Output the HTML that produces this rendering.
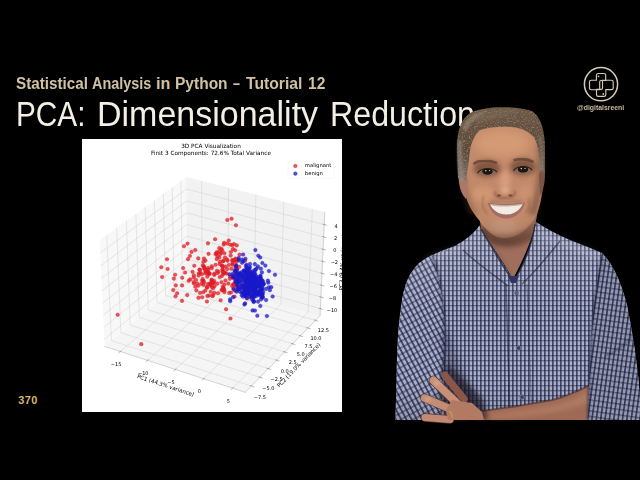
<!DOCTYPE html>
<html><head><meta charset="utf-8"><title>PCA: Dimensionality Reduction</title>
<style>
html,body{margin:0;padding:0;background:#000;}
body{width:640px;height:480px;position:relative;overflow:hidden;font-family:"Liberation Sans",Arial,sans-serif;}
.abs{position:absolute;}
#sub{left:0;top:0;width:640px;height:100px;font-size:16px;font-weight:bold;color:#d0c1a4;white-space:nowrap;}
.sw{position:absolute;top:75.2px;line-height:18px;transform-origin:0 0;}
#title{left:0;top:0;width:640px;height:140px;font-size:34px;color:#f4efe4;white-space:nowrap;}
.tw{position:absolute;top:93.4px;line-height:38px;transform-origin:0 0;}
#num{left:18.3px;top:393.8px;font-size:11px;font-weight:bold;color:#d6b66a;letter-spacing:0.35px;}
#chart{left:82px;top:139px;width:260px;height:273px;overflow:hidden;background:#fff;filter:blur(0.3px);}
#chart svg{display:block;}
#logo{left:581.3px;top:64.4px;}
#handle{left:577px;top:103px;font-size:8px;line-height:10px;font-weight:bold;color:#cbbb9c;white-space:nowrap;transform-origin:0 0;transform:scaleX(0.86);}
#person{left:0;top:0;}
</style></head><body>
<div class="abs" id="sub"><span class="sw" style="left:15.8px;transform:scaleX(0.952)">Statistical</span> <span class="sw" style="left:92.0px;transform:scaleX(0.9)">Analysis</span> <span class="sw" style="left:156.0px;transform:scaleX(1.0)">in</span> <span class="sw" style="left:175.0px;transform:scaleX(0.97)">Python</span> <span class="sw" style="left:233.0px;transform:scaleX(0.78)">–</span> <span class="sw" style="left:245.5px;transform:scaleX(0.98)">Tutorial</span> <span class="sw" style="left:307.6px;transform:scaleX(0.97)">12</span></div>
<div class="abs" id="title"><span class="tw" style="left:16.1px;transform:scale(0.876,1.05)">PCA:</span> <span class="tw" style="left:97.0px;transform:scale(1.0,1.05)">Dimensionality</span> <span class="tw" style="left:329.7px;transform:scale(0.947,1.05)">Reduction</span></div>
<div class="abs" id="num">370</div>
<div class="abs" id="chart"><svg width="260" height="273" viewBox="185.72 40.40 518.14 544.05"><g> <g> <path d="M 0 648 L 864 648 L 864 0 L 0 0 L 0 648 z " style="fill: none; opacity: 0"/> </g> <g> <path d="M 193.32 576.72 L 692.28 576.72 L 692.28 77.76 L 193.32 77.76 z " style="fill: #ffffff"/> </g> <g> <g> <path d="M 230.99 453.69 L 395.76 315.57 L 393.47 116.38 L 220.81 242.38 " style="fill: #f2f2f2; opacity: 0.5; stroke: #f2f2f2; stroke-linejoin: miter"/> </g> </g> <g> <g> <path d="M 395.76 315.57 L 660.16 392.42 L 669.60 186.37 L 393.47 116.38 " style="fill: #e6e6e6; opacity: 0.5; stroke: #e6e6e6; stroke-linejoin: miter"/> </g> </g> <g> <g> <path d="M 230.99 453.69 L 511.27 545.23 L 660.16 392.42 L 395.76 315.57 " style="fill: #ececec; opacity: 0.5; stroke: #ececec; stroke-linejoin: miter"/> </g> </g> <g> <g> <path d="M 262.08 463.84 L 425.21 324.13 L 424.17 124.16 " style="fill: none; stroke: #c8c8c8; stroke-width: 0.8"/> <path d="M 316.29 481.55 L 476.48 339.03 L 477.65 137.72 " style="fill: none; stroke: #c8c8c8; stroke-width: 0.8"/> <path d="M 371.65 499.63 L 528.74 354.22 L 532.20 151.55 " style="fill: none; stroke: #c8c8c8; stroke-width: 0.8"/> <path d="M 428.18 518.09 L 582.02 369.71 L 587.87 165.66 " style="fill: none; stroke: #c8c8c8; stroke-width: 0.8"/> <path d="M 485.92 536.95 L 636.35 385.50 L 644.68 180.06 " style="fill: none; stroke: #c8c8c8; stroke-width: 0.8"/> </g> </g> <g> <g> <path d="M 234.96 232.06 L 244.44 442.41 L 523.47 532.70 " style="fill: none; stroke: #c8c8c8; stroke-width: 0.8"/> <path d="M 254.72 217.64 L 263.25 426.65 L 540.52 515.21 " style="fill: none; stroke: #c8c8c8; stroke-width: 0.8"/> <path d="M 274.09 203.50 L 281.70 411.18 L 557.23 498.06 " style="fill: none; stroke: #c8c8c8; stroke-width: 0.8"/> <path d="M 293.09 189.64 L 299.82 396.00 L 573.62 481.24 " style="fill: none; stroke: #c8c8c8; stroke-width: 0.8"/> <path d="M 311.73 176.03 L 317.60 381.09 L 589.70 464.74 " style="fill: none; stroke: #c8c8c8; stroke-width: 0.8"/> <path d="M 330.02 162.69 L 335.06 366.45 L 605.47 448.56 " style="fill: none; stroke: #c8c8c8; stroke-width: 0.8"/> <path d="M 347.96 149.59 L 352.21 352.08 L 620.94 432.68 " style="fill: none; stroke: #c8c8c8; stroke-width: 0.8"/> <path d="M 365.58 136.74 L 369.06 337.96 L 636.12 417.10 " style="fill: none; stroke: #c8c8c8; stroke-width: 0.8"/> <path d="M 382.86 124.12 L 385.60 324.09 L 651.02 401.80 " style="fill: none; stroke: #c8c8c8; stroke-width: 0.8"/> </g> </g> <g> <g> <path d="M 660.80 378.54 L 395.61 302.12 L 230.31 439.47 " style="fill: none; stroke: #c8c8c8; stroke-width: 0.8"/> <path d="M 661.86 355.33 L 395.35 279.65 L 229.16 415.70 " style="fill: none; stroke: #c8c8c8; stroke-width: 0.8"/> <path d="M 662.94 331.88 L 395.09 256.95 L 228.00 391.67 " style="fill: none; stroke: #c8c8c8; stroke-width: 0.8"/> <path d="M 664.02 308.19 L 394.83 234.04 L 226.83 367.39 " style="fill: none; stroke: #c8c8c8; stroke-width: 0.8"/> <path d="M 665.12 284.26 L 394.56 210.90 L 225.65 342.85 " style="fill: none; stroke: #c8c8c8; stroke-width: 0.8"/> <path d="M 666.22 260.08 L 394.29 187.54 L 224.46 318.05 " style="fill: none; stroke: #c8c8c8; stroke-width: 0.8"/> <path d="M 667.34 235.66 L 394.02 163.95 L 223.25 292.99 " style="fill: none; stroke: #c8c8c8; stroke-width: 0.8"/> <path d="M 668.47 210.98 L 393.75 140.13 L 222.03 267.65 " style="fill: none; stroke: #c8c8c8; stroke-width: 0.8"/> </g> </g> <g> <g> <path d="M 230.99 453.69 L 511.27 545.23 " style="fill: none; stroke: #9a9a9a; stroke-width: 0.8; stroke-linecap: square"/> </g> <g> <g> <path d="M 263.50 462.63 L 259.24 466.28 " style="fill: none; stroke: #505050; stroke-width: 0.8; stroke-linecap: square"/> </g> <g transform="translate(-1.00 4.98)"> <text style="font-size: 10px; font-family: DejaVu Sans, sans-serif; text-anchor: middle" x="254.57" y="487.18" transform="rotate(-0 254.57 487.18)">−15</text> </g> </g> <g> <g> <path d="M 317.69 480.31 L 313.50 484.04 " style="fill: none; stroke: #505050; stroke-width: 0.8; stroke-linecap: square"/> </g> <g transform="translate(-1.00 4.98)"> <text style="font-size: 10px; font-family: DejaVu Sans, sans-serif; text-anchor: middle" x="308.82" y="505.08" transform="rotate(-0 308.82 505.08)">−10</text> </g> </g> <g> <g> <path d="M 373.02 498.36 L 368.90 502.17 " style="fill: none; stroke: #505050; stroke-width: 0.8; stroke-linecap: square"/> </g> <g transform="translate(-1.00 4.98)"> <text style="font-size: 10px; font-family: DejaVu Sans, sans-serif; text-anchor: middle" x="364.20" y="523.36" transform="rotate(-0 364.20 523.36)">−5</text> </g> </g> <g> <g> <path d="M 429.52 516.79 L 425.48 520.69 " style="fill: none; stroke: #505050; stroke-width: 0.8; stroke-linecap: square"/> </g> <g transform="translate(-1.00 4.98)"> <text style="font-size: 10px; font-family: DejaVu Sans, sans-serif; text-anchor: middle" x="420.77" y="542.04" transform="rotate(-0 420.77 542.04)">0</text> </g> </g> <g> <g> <path d="M 487.23 535.62 L 483.28 539.60 " style="fill: none; stroke: #505050; stroke-width: 0.8; stroke-linecap: square"/> </g> <g transform="translate(-1.00 4.98)"> <text style="font-size: 10px; font-family: DejaVu Sans, sans-serif; text-anchor: middle" x="478.55" y="561.11" transform="rotate(-0 478.55 561.11)">5</text> </g> </g> <g transform="translate(1.00 -1.20)"> <text style="font-size: 11px; font-family: DejaVu Sans, sans-serif; text-anchor: middle" x="350.26" y="536.27" transform="rotate(-341.91 350.26 536.27)">PC1 (44.3% variance)</text> </g> </g> <g> <g> <path d="M 660.16 392.42 L 511.27 545.23 " style="fill: none; stroke: #9a9a9a; stroke-width: 0.8; stroke-linecap: square"/> </g> <g> <g> <path d="M 521.12 531.94 L 528.18 534.23 " style="fill: none; stroke: #505050; stroke-width: 0.8; stroke-linecap: square"/> </g> <g transform="translate(3.79 4.18)"> <text style="font-size: 10px; font-family: DejaVu Sans, sans-serif; text-anchor: middle" x="536.34" y="553.70" transform="rotate(-0 536.34 553.70)">−7.5</text> </g> </g> <g> <g> <path d="M 538.18 514.46 L 545.20 516.70 " style="fill: none; stroke: #505050; stroke-width: 0.8; stroke-linecap: square"/> </g> <g transform="translate(3.79 4.18)"> <text style="font-size: 10px; font-family: DejaVu Sans, sans-serif; text-anchor: middle" x="553.26" y="536.07" transform="rotate(-0 553.26 536.07)">−5.0</text> </g> </g> <g> <g> <path d="M 554.91 497.32 L 561.88 499.52 " style="fill: none; stroke: #505050; stroke-width: 0.8; stroke-linecap: square"/> </g> <g transform="translate(3.79 4.18)"> <text style="font-size: 10px; font-family: DejaVu Sans, sans-serif; text-anchor: middle" x="569.86" y="518.78" transform="rotate(-0 569.86 518.78)">−2.5</text> </g> </g> <g> <g> <path d="M 571.32 480.52 L 578.24 482.67 " style="fill: none; stroke: #505050; stroke-width: 0.8; stroke-linecap: square"/> </g> <g transform="translate(3.79 4.18)"> <text style="font-size: 10px; font-family: DejaVu Sans, sans-serif; text-anchor: middle" x="586.13" y="501.83" transform="rotate(-0 586.13 501.83)">0.0</text> </g> </g> <g> <g> <path d="M 587.41 464.04 L 594.28 466.15 " style="fill: none; stroke: #505050; stroke-width: 0.8; stroke-linecap: square"/> </g> <g transform="translate(3.79 4.18)"> <text style="font-size: 10px; font-family: DejaVu Sans, sans-serif; text-anchor: middle" x="602.09" y="485.21" transform="rotate(-0 602.09 485.21)">2.5</text> </g> </g> <g> <g> <path d="M 603.19 447.87 L 610.02 449.94 " style="fill: none; stroke: #505050; stroke-width: 0.8; stroke-linecap: square"/> </g> <g transform="translate(3.79 4.18)"> <text style="font-size: 10px; font-family: DejaVu Sans, sans-serif; text-anchor: middle" x="617.74" y="468.90" transform="rotate(-0 617.74 468.90)">5.0</text> </g> </g> <g> <g> <path d="M 618.68 432.00 L 625.46 434.04 " style="fill: none; stroke: #505050; stroke-width: 0.8; stroke-linecap: square"/> </g> <g transform="translate(3.79 4.18)"> <text style="font-size: 10px; font-family: DejaVu Sans, sans-serif; text-anchor: middle" x="633.10" y="452.89" transform="rotate(-0 633.10 452.89)">7.5</text> </g> </g> <g> <g> <path d="M 633.88 416.43 L 640.61 418.43 " style="fill: none; stroke: #505050; stroke-width: 0.8; stroke-linecap: square"/> </g> <g transform="translate(3.79 4.18)"> <text style="font-size: 10px; font-family: DejaVu Sans, sans-serif; text-anchor: middle" x="648.18" y="437.19" transform="rotate(-0 648.18 437.19)">10.0</text> </g> </g> <g> <g> <path d="M 648.79 401.15 L 655.48 403.11 " style="fill: none; stroke: #505050; stroke-width: 0.8; stroke-linecap: square"/> </g> <g transform="translate(3.79 4.18)"> <text style="font-size: 10px; font-family: DejaVu Sans, sans-serif; text-anchor: middle" x="662.97" y="421.78" transform="rotate(-0 662.97 421.78)">12.5</text> </g> </g> <g transform="translate(1.91 -1.91)"> <text style="font-size: 11px; font-family: DejaVu Sans, sans-serif; text-anchor: middle" x="618.18" y="495.52" transform="rotate(-45.74 618.18 495.52)">PC2 (19.0% variance)</text> </g> </g> <g> <g> <path d="M 660.16 392.42 L 669.60 186.37 " style="fill: none; stroke: #9a9a9a; stroke-width: 0.8; stroke-linecap: square"/> </g> <g> <g> <path d="M 658.57 377.90 L 665.26 379.82 " style="fill: none; stroke: #505050; stroke-width: 0.8; stroke-linecap: square"/> </g> <g transform="translate(4.78 1.00)"> <text style="font-size: 10px; font-family: DejaVu Sans, sans-serif; text-anchor: middle" x="679.13" y="383.54" transform="rotate(-0 679.13 383.54)">−10</text> </g> </g> <g> <g> <path d="M 659.63 354.69 L 666.34 356.60 " style="fill: none; stroke: #505050; stroke-width: 0.8; stroke-linecap: square"/> </g> <g transform="translate(4.78 1.00)"> <text style="font-size: 10px; font-family: DejaVu Sans, sans-serif; text-anchor: middle" x="680.28" y="360.35" transform="rotate(-0 680.28 360.35)">−8</text> </g> </g> <g> <g> <path d="M 660.69 331.25 L 667.44 333.14 " style="fill: none; stroke: #505050; stroke-width: 0.8; stroke-linecap: square"/> </g> <g transform="translate(4.78 1.00)"> <text style="font-size: 10px; font-family: DejaVu Sans, sans-serif; text-anchor: middle" x="681.45" y="336.93" transform="rotate(-0 681.45 336.93)">−6</text> </g> </g> <g> <g> <path d="M 661.76 307.57 L 668.55 309.44 " style="fill: none; stroke: #505050; stroke-width: 0.8; stroke-linecap: square"/> </g> <g transform="translate(4.78 1.00)"> <text style="font-size: 10px; font-family: DejaVu Sans, sans-serif; text-anchor: middle" x="682.62" y="313.27" transform="rotate(-0 682.62 313.27)">−4</text> </g> </g> <g> <g> <path d="M 662.84 283.64 L 669.67 285.49 " style="fill: none; stroke: #505050; stroke-width: 0.8; stroke-linecap: square"/> </g> <g transform="translate(4.78 1.00)"> <text style="font-size: 10px; font-family: DejaVu Sans, sans-serif; text-anchor: middle" x="683.81" y="289.36" transform="rotate(-0 683.81 289.36)">−2</text> </g> </g> <g> <g> <path d="M 663.94 259.47 L 670.80 261.30 " style="fill: none; stroke: #505050; stroke-width: 0.8; stroke-linecap: square"/> </g> <g transform="translate(4.78 1.00)"> <text style="font-size: 10px; font-family: DejaVu Sans, sans-serif; text-anchor: middle" x="685.01" y="265.22" transform="rotate(-0 685.01 265.22)">0</text> </g> </g> <g> <g> <path d="M 665.05 235.06 L 671.94 236.86 " style="fill: none; stroke: #505050; stroke-width: 0.8; stroke-linecap: square"/> </g> <g transform="translate(4.78 1.00)"> <text style="font-size: 10px; font-family: DejaVu Sans, sans-serif; text-anchor: middle" x="686.23" y="240.82" transform="rotate(-0 686.23 240.82)">2</text> </g> </g> <g> <g> <path d="M 666.16 210.38 L 673.10 212.17 " style="fill: none; stroke: #505050; stroke-width: 0.8; stroke-linecap: square"/> </g> <g transform="translate(4.78 1.00)"> <text style="font-size: 10px; font-family: DejaVu Sans, sans-serif; text-anchor: middle" x="687.45" y="216.17" transform="rotate(-0 687.45 216.17)">4</text> </g> </g> <g transform="translate(0.00 0.00)"> <text style="font-size: 11px; font-family: DejaVu Sans, sans-serif; text-anchor: middle" x="708.31" y="286.37" transform="rotate(-87.37 708.31 286.37)">PC3 (9.4% variance)</text> </g> </g> <g> <g> <circle cx="367.6" cy="341.5" r="3.6" fill="#e01c24" fill-opacity="0.75" stroke="#e01c24" stroke-opacity="0.75"/> <circle cx="397.0" cy="279.8" r="3.6" fill="#e01c24" fill-opacity="0.75" stroke="#e01c24" stroke-opacity="0.75"/> <circle cx="483.8" cy="199.2" r="3.6" fill="#e01c24" fill-opacity="0.75" stroke="#e01c24" stroke-opacity="0.75"/> <circle cx="475.1" cy="248.8" r="3.6" fill="#e01c24" fill-opacity="0.75" stroke="#e01c24" stroke-opacity="0.75"/> <circle cx="420.9" cy="347.1" r="3.6" fill="#e01c24" fill-opacity="0.75" stroke="#e01c24" stroke-opacity="0.75"/> <circle cx="418.7" cy="308.1" r="3.6" fill="#e01c24" fill-opacity="0.75" stroke="#e01c24" stroke-opacity="0.75"/> <circle cx="472.9" cy="379.6" r="3.6" fill="#e01c24" fill-opacity="0.75" stroke="#e01c24" stroke-opacity="0.75"/> <circle cx="459.2" cy="276.6" r="3.6" fill="#e01c24" fill-opacity="0.75" stroke="#e01c24" stroke-opacity="0.75"/> <circle cx="355.1" cy="280.1" r="3.6" fill="#e01c24" fill-opacity="0.75" stroke="#e01c24" stroke-opacity="0.75"/> <circle cx="406.0" cy="305.2" r="3.6" fill="#e01c24" fill-opacity="0.75" stroke="#e01c24" stroke-opacity="0.75"/> <circle cx="475.3" cy="201.7" r="3.6" fill="#e01c24" fill-opacity="0.75" stroke="#e01c24" stroke-opacity="0.75"/> <circle cx="461.2" cy="269.9" r="3.6" fill="#e01c24" fill-opacity="0.75" stroke="#e01c24" stroke-opacity="0.75"/> <circle cx="404.0" cy="265.4" r="3.6" fill="#e01c24" fill-opacity="0.75" stroke="#e01c24" stroke-opacity="0.75"/> <circle cx="388.9" cy="254.0" r="3.6" fill="#e01c24" fill-opacity="0.75" stroke="#e01c24" stroke-opacity="0.75"/> <circle cx="303.8" cy="449.2" r="3.6" fill="#e01c24" fill-opacity="0.75" stroke="#e01c24" stroke-opacity="0.75"/> <circle cx="427.7" cy="285.0" r="3.6" fill="#e01c24" fill-opacity="0.75" stroke="#e01c24" stroke-opacity="0.75"/> <circle cx="435.3" cy="314.8" r="3.6" fill="#e01c24" fill-opacity="0.75" stroke="#e01c24" stroke-opacity="0.75"/> <circle cx="460.7" cy="284.8" r="3.6" fill="#e01c24" fill-opacity="0.75" stroke="#e01c24" stroke-opacity="0.75"/> <circle cx="499.7" cy="270.9" r="3.6" fill="#e01c24" fill-opacity="0.75" stroke="#e01c24" stroke-opacity="0.75"/> <circle cx="456.7" cy="347.8" r="3.6" fill="#e01c24" fill-opacity="0.75" stroke="#e01c24" stroke-opacity="0.75"/> <circle cx="442.1" cy="332.2" r="3.6" fill="#e01c24" fill-opacity="0.75" stroke="#e01c24" stroke-opacity="0.75"/> <circle cx="478.2" cy="242.7" r="3.6" fill="#e01c24" fill-opacity="0.75" stroke="#e01c24" stroke-opacity="0.75"/> <circle cx="413.1" cy="321.4" r="3.6" fill="#e01c24" fill-opacity="0.75" stroke="#e01c24" stroke-opacity="0.75"/> <circle cx="256.8" cy="390.6" r="3.6" fill="#e01c24" fill-opacity="0.75" stroke="#e01c24" stroke-opacity="0.75"/> <circle cx="439.1" cy="352.2" r="3.6" fill="#e01c24" fill-opacity="0.75" stroke="#e01c24" stroke-opacity="0.75"/> <circle cx="463.0" cy="267.1" r="3.6" fill="#e01c24" fill-opacity="0.75" stroke="#e01c24" stroke-opacity="0.75"/> <circle cx="391.2" cy="306.5" r="3.6" fill="#e01c24" fill-opacity="0.75" stroke="#e01c24" stroke-opacity="0.75"/> <circle cx="492.5" cy="212.3" r="3.6" fill="#e01c24" fill-opacity="0.75" stroke="#e01c24" stroke-opacity="0.75"/> <circle cx="466.7" cy="283.9" r="3.6" fill="#e01c24" fill-opacity="0.75" stroke="#e01c24" stroke-opacity="0.75"/> <circle cx="480.9" cy="314.6" r="3.6" fill="#e01c24" fill-opacity="0.75" stroke="#e01c24" stroke-opacity="0.75"/> <circle cx="458.5" cy="264.6" r="3.6" fill="#e01c24" fill-opacity="0.75" stroke="#e01c24" stroke-opacity="0.75"/> <circle cx="451.0" cy="240.1" r="3.6" fill="#e01c24" fill-opacity="0.75" stroke="#e01c24" stroke-opacity="0.75"/> <circle cx="466.3" cy="294.3" r="3.6" fill="#e01c24" fill-opacity="0.75" stroke="#e01c24" stroke-opacity="0.75"/> <circle cx="485.4" cy="281.6" r="3.6" fill="#e01c24" fill-opacity="0.75" stroke="#e01c24" stroke-opacity="0.75"/> <circle cx="387.3" cy="297.7" r="3.6" fill="#e01c24" fill-opacity="0.75" stroke="#e01c24" stroke-opacity="0.75"/> <circle cx="429.7" cy="295.7" r="3.6" fill="#e01c24" fill-opacity="0.75" stroke="#e01c24" stroke-opacity="0.75"/> <circle cx="425.2" cy="322.4" r="3.6" fill="#e01c24" fill-opacity="0.75" stroke="#e01c24" stroke-opacity="0.75"/> <circle cx="483.2" cy="298.9" r="3.6" fill="#e01c24" fill-opacity="0.75" stroke="#e01c24" stroke-opacity="0.75"/> <circle cx="463.6" cy="259.0" r="3.6" fill="#e01c24" fill-opacity="0.75" stroke="#e01c24" stroke-opacity="0.75"/> <circle cx="485.3" cy="252.1" r="3.6" fill="#e01c24" fill-opacity="0.75" stroke="#e01c24" stroke-opacity="0.75"/> <circle cx="413.6" cy="342.1" r="3.6" fill="#e01c24" fill-opacity="0.75" stroke="#e01c24" stroke-opacity="0.75"/> <circle cx="454.2" cy="266.0" r="3.6" fill="#e01c24" fill-opacity="0.75" stroke="#e01c24" stroke-opacity="0.75"/> <circle cx="356.4" cy="299.4" r="3.6" fill="#e01c24" fill-opacity="0.75" stroke="#e01c24" stroke-opacity="0.75"/> <circle cx="488.6" cy="249.7" r="3.6" fill="#e01c24" fill-opacity="0.75" stroke="#e01c24" stroke-opacity="0.75"/> <circle cx="417.3" cy="278.3" r="3.6" fill="#e01c24" fill-opacity="0.75" stroke="#e01c24" stroke-opacity="0.75"/> <circle cx="477.4" cy="328.5" r="3.6" fill="#e01c24" fill-opacity="0.75" stroke="#e01c24" stroke-opacity="0.75"/> <circle cx="396.0" cy="248.9" r="3.6" fill="#e01c24" fill-opacity="0.75" stroke="#e01c24" stroke-opacity="0.75"/> <circle cx="486.5" cy="259.9" r="3.6" fill="#e01c24" fill-opacity="0.75" stroke="#e01c24" stroke-opacity="0.75"/> <circle cx="436.7" cy="248.3" r="3.6" fill="#e01c24" fill-opacity="0.75" stroke="#e01c24" stroke-opacity="0.75"/> <circle cx="494.1" cy="252.5" r="3.6" fill="#e01c24" fill-opacity="0.75" stroke="#e01c24" stroke-opacity="0.75"/> <circle cx="492.7" cy="286.0" r="3.6" fill="#e01c24" fill-opacity="0.75" stroke="#e01c24" stroke-opacity="0.75"/> <circle cx="468.2" cy="250.4" r="3.6" fill="#e01c24" fill-opacity="0.75" stroke="#e01c24" stroke-opacity="0.75"/> <circle cx="481.3" cy="250.9" r="3.6" fill="#e01c24" fill-opacity="0.75" stroke="#e01c24" stroke-opacity="0.75"/> <circle cx="485.6" cy="288.3" r="3.6" fill="#e01c24" fill-opacity="0.75" stroke="#e01c24" stroke-opacity="0.75"/> <circle cx="474.9" cy="299.6" r="3.6" fill="#e01c24" fill-opacity="0.75" stroke="#e01c24" stroke-opacity="0.75"/> <circle cx="444.5" cy="327.1" r="3.6" fill="#e01c24" fill-opacity="0.75" stroke="#e01c24" stroke-opacity="0.75"/> <circle cx="449.4" cy="347.1" r="3.6" fill="#e01c24" fill-opacity="0.75" stroke="#e01c24" stroke-opacity="0.75"/> <circle cx="398.3" cy="323.0" r="3.6" fill="#e01c24" fill-opacity="0.75" stroke="#e01c24" stroke-opacity="0.75"/> <circle cx="437.9" cy="269.3" r="3.6" fill="#e01c24" fill-opacity="0.75" stroke="#e01c24" stroke-opacity="0.75"/> <circle cx="452.0" cy="291.1" r="3.6" fill="#e01c24" fill-opacity="0.75" stroke="#e01c24" stroke-opacity="0.75"/> <circle cx="436.3" cy="329.6" r="3.6" fill="#e01c24" fill-opacity="0.75" stroke="#e01c24" stroke-opacity="0.75"/> <circle cx="454.2" cy="279.7" r="3.6" fill="#e01c24" fill-opacity="0.75" stroke="#e01c24" stroke-opacity="0.75"/> <circle cx="408.6" cy="312.2" r="3.6" fill="#e01c24" fill-opacity="0.75" stroke="#e01c24" stroke-opacity="0.75"/> <circle cx="444.4" cy="294.0" r="3.6" fill="#e01c24" fill-opacity="0.75" stroke="#e01c24" stroke-opacity="0.75"/> <circle cx="419.7" cy="300.8" r="3.6" fill="#e01c24" fill-opacity="0.75" stroke="#e01c24" stroke-opacity="0.75"/> <circle cx="453.5" cy="269.1" r="3.6" fill="#e01c24" fill-opacity="0.75" stroke="#e01c24" stroke-opacity="0.75"/> <circle cx="385.1" cy="332.2" r="3.6" fill="#e01c24" fill-opacity="0.75" stroke="#e01c24" stroke-opacity="0.75"/> <circle cx="471.6" cy="322.3" r="3.6" fill="#e01c24" fill-opacity="0.75" stroke="#e01c24" stroke-opacity="0.75"/> <circle cx="408.4" cy="316.4" r="3.6" fill="#e01c24" fill-opacity="0.75" stroke="#e01c24" stroke-opacity="0.75"/> <circle cx="427.9" cy="322.9" r="3.6" fill="#e01c24" fill-opacity="0.75" stroke="#e01c24" stroke-opacity="0.75"/> <circle cx="411.4" cy="261.7" r="3.6" fill="#e01c24" fill-opacity="0.75" stroke="#e01c24" stroke-opacity="0.75"/> <circle cx="400.7" cy="273.7" r="3.6" fill="#e01c24" fill-opacity="0.75" stroke="#e01c24" stroke-opacity="0.75"/> <circle cx="423.6" cy="329.1" r="3.6" fill="#e01c24" fill-opacity="0.75" stroke="#e01c24" stroke-opacity="0.75"/> <circle cx="493.8" cy="280.7" r="3.6" fill="#e01c24" fill-opacity="0.75" stroke="#e01c24" stroke-opacity="0.75"/> <circle cx="466.1" cy="300.3" r="3.6" fill="#e01c24" fill-opacity="0.75" stroke="#e01c24" stroke-opacity="0.75"/> <circle cx="421.1" cy="301.2" r="3.6" fill="#e01c24" fill-opacity="0.75" stroke="#e01c24" stroke-opacity="0.75"/> <circle cx="443.4" cy="325.2" r="3.6" fill="#e01c24" fill-opacity="0.75" stroke="#e01c24" stroke-opacity="0.75"/> <circle cx="431.7" cy="282.7" r="3.6" fill="#e01c24" fill-opacity="0.75" stroke="#e01c24" stroke-opacity="0.75"/> <circle cx="487.8" cy="337.6" r="3.6" fill="#e01c24" fill-opacity="0.75" stroke="#e01c24" stroke-opacity="0.75"/> <circle cx="465.1" cy="293.4" r="3.6" fill="#e01c24" fill-opacity="0.75" stroke="#e01c24" stroke-opacity="0.75"/> <circle cx="482.0" cy="272.8" r="3.6" fill="#e01c24" fill-opacity="0.75" stroke="#e01c24" stroke-opacity="0.75"/> <circle cx="343.7" cy="296.0" r="3.6" fill="#e01c24" fill-opacity="0.75" stroke="#e01c24" stroke-opacity="0.75"/> <circle cx="395.5" cy="351.5" r="3.6" fill="#e01c24" fill-opacity="0.75" stroke="#e01c24" stroke-opacity="0.75"/> <circle cx="445.7" cy="353.7" r="3.6" fill="#e01c24" fill-opacity="0.75" stroke="#e01c24" stroke-opacity="0.75"/> <circle cx="469.4" cy="268.1" r="3.6" fill="#e01c24" fill-opacity="0.75" stroke="#e01c24" stroke-opacity="0.75"/> <circle cx="417.8" cy="357.0" r="3.6" fill="#e01c24" fill-opacity="0.75" stroke="#e01c24" stroke-opacity="0.75"/> <circle cx="469.1" cy="247.2" r="3.6" fill="#e01c24" fill-opacity="0.75" stroke="#e01c24" stroke-opacity="0.75"/> <circle cx="433.7" cy="307.2" r="3.6" fill="#e01c24" fill-opacity="0.75" stroke="#e01c24" stroke-opacity="0.75"/> <circle cx="470.6" cy="276.6" r="3.6" fill="#e01c24" fill-opacity="0.75" stroke="#e01c24" stroke-opacity="0.75"/> <circle cx="449.7" cy="333.6" r="3.6" fill="#e01c24" fill-opacity="0.75" stroke="#e01c24" stroke-opacity="0.75"/> <circle cx="444.0" cy="321.0" r="3.6" fill="#e01c24" fill-opacity="0.75" stroke="#e01c24" stroke-opacity="0.75"/> <circle cx="436.3" cy="303.9" r="3.6" fill="#e01c24" fill-opacity="0.75" stroke="#e01c24" stroke-opacity="0.75"/> <circle cx="485.3" cy="283.0" r="3.6" fill="#e01c24" fill-opacity="0.75" stroke="#e01c24" stroke-opacity="0.75"/> <circle cx="448.2" cy="326.6" r="3.6" fill="#e01c24" fill-opacity="0.75" stroke="#e01c24" stroke-opacity="0.75"/> <circle cx="490.9" cy="262.1" r="3.6" fill="#e01c24" fill-opacity="0.75" stroke="#e01c24" stroke-opacity="0.75"/> <circle cx="444.9" cy="335.9" r="3.6" fill="#e01c24" fill-opacity="0.75" stroke="#e01c24" stroke-opacity="0.75"/> <circle cx="435.3" cy="336.5" r="3.6" fill="#e01c24" fill-opacity="0.75" stroke="#e01c24" stroke-opacity="0.75"/> <circle cx="371.3" cy="310.9" r="3.6" fill="#e01c24" fill-opacity="0.75" stroke="#e01c24" stroke-opacity="0.75"/> <circle cx="446.5" cy="326.5" r="3.6" fill="#e01c24" fill-opacity="0.75" stroke="#e01c24" stroke-opacity="0.75"/> <circle cx="434.7" cy="364.3" r="3.6" fill="#e01c24" fill-opacity="0.75" stroke="#e01c24" stroke-opacity="0.75"/> <circle cx="510.7" cy="283.1" r="3.6" fill="#e01c24" fill-opacity="0.75" stroke="#e01c24" stroke-opacity="0.75"/> <circle cx="491.2" cy="311.8" r="3.6" fill="#e01c24" fill-opacity="0.75" stroke="#e01c24" stroke-opacity="0.75"/> <circle cx="475.8" cy="283.0" r="3.6" fill="#e01c24" fill-opacity="0.75" stroke="#e01c24" stroke-opacity="0.75"/> <circle cx="452.0" cy="269.5" r="3.6" fill="#e01c24" fill-opacity="0.75" stroke="#e01c24" stroke-opacity="0.75"/> <circle cx="442.4" cy="329.7" r="3.6" fill="#e01c24" fill-opacity="0.75" stroke="#e01c24" stroke-opacity="0.75"/> <circle cx="478.2" cy="291.6" r="3.6" fill="#e01c24" fill-opacity="0.75" stroke="#e01c24" stroke-opacity="0.75"/> <circle cx="459.3" cy="257.9" r="3.6" fill="#e01c24" fill-opacity="0.75" stroke="#e01c24" stroke-opacity="0.75"/> <circle cx="467.8" cy="283.2" r="3.6" fill="#e01c24" fill-opacity="0.75" stroke="#e01c24" stroke-opacity="0.75"/> <circle cx="428.8" cy="326.0" r="3.6" fill="#e01c24" fill-opacity="0.75" stroke="#e01c24" stroke-opacity="0.75"/> <circle cx="485.5" cy="290.8" r="3.6" fill="#e01c24" fill-opacity="0.75" stroke="#e01c24" stroke-opacity="0.75"/> <circle cx="464.1" cy="292.1" r="3.6" fill="#e01c24" fill-opacity="0.75" stroke="#e01c24" stroke-opacity="0.75"/> <circle cx="417.4" cy="332.8" r="3.6" fill="#e01c24" fill-opacity="0.75" stroke="#e01c24" stroke-opacity="0.75"/> <circle cx="368.8" cy="318.6" r="3.6" fill="#e01c24" fill-opacity="0.75" stroke="#e01c24" stroke-opacity="0.75"/> <circle cx="483.0" cy="346.4" r="3.6" fill="#e01c24" fill-opacity="0.75" stroke="#e01c24" stroke-opacity="0.75"/> <circle cx="490.4" cy="310.6" r="3.6" fill="#e01c24" fill-opacity="0.75" stroke="#e01c24" stroke-opacity="0.75"/> <circle cx="427.2" cy="345.7" r="3.6" fill="#e01c24" fill-opacity="0.75" stroke="#e01c24" stroke-opacity="0.75"/> <circle cx="427.9" cy="294.0" r="3.6" fill="#e01c24" fill-opacity="0.75" stroke="#e01c24" stroke-opacity="0.75"/> <circle cx="421.5" cy="307.0" r="3.6" fill="#e01c24" fill-opacity="0.75" stroke="#e01c24" stroke-opacity="0.75"/> <circle cx="455.1" cy="328.7" r="3.6" fill="#e01c24" fill-opacity="0.75" stroke="#e01c24" stroke-opacity="0.75"/> <circle cx="409.5" cy="292.9" r="3.6" fill="#e01c24" fill-opacity="0.75" stroke="#e01c24" stroke-opacity="0.75"/> <circle cx="430.5" cy="299.5" r="3.6" fill="#e01c24" fill-opacity="0.75" stroke="#e01c24" stroke-opacity="0.75"/> <circle cx="429.1" cy="298.1" r="3.6" fill="#e01c24" fill-opacity="0.75" stroke="#e01c24" stroke-opacity="0.75"/> <circle cx="444.6" cy="321.5" r="3.6" fill="#e01c24" fill-opacity="0.75" stroke="#e01c24" stroke-opacity="0.75"/> <circle cx="465.7" cy="301.7" r="3.6" fill="#e01c24" fill-opacity="0.75" stroke="#e01c24" stroke-opacity="0.75"/> <circle cx="385.4" cy="316.9" r="3.6" fill="#e01c24" fill-opacity="0.75" stroke="#e01c24" stroke-opacity="0.75"/> <circle cx="418.1" cy="312.6" r="3.6" fill="#e01c24" fill-opacity="0.75" stroke="#e01c24" stroke-opacity="0.75"/> <circle cx="487.2" cy="330.0" r="3.6" fill="#e01c24" fill-opacity="0.75" stroke="#e01c24" stroke-opacity="0.75"/> <circle cx="465.2" cy="262.2" r="3.6" fill="#e01c24" fill-opacity="0.75" stroke="#e01c24" stroke-opacity="0.75"/> <circle cx="491.4" cy="303.8" r="3.6" fill="#e01c24" fill-opacity="0.75" stroke="#e01c24" stroke-opacity="0.75"/> <circle cx="426.5" cy="292.0" r="3.6" fill="#e01c24" fill-opacity="0.75" stroke="#e01c24" stroke-opacity="0.75"/> <circle cx="489.5" cy="282.1" r="3.6" fill="#e01c24" fill-opacity="0.75" stroke="#e01c24" stroke-opacity="0.75"/> <circle cx="462.0" cy="361.8" r="3.6" fill="#e01c24" fill-opacity="0.75" stroke="#e01c24" stroke-opacity="0.75"/> <circle cx="425.2" cy="355.8" r="3.6" fill="#e01c24" fill-opacity="0.75" stroke="#e01c24" stroke-opacity="0.75"/> <circle cx="459.8" cy="289.6" r="3.6" fill="#e01c24" fill-opacity="0.75" stroke="#e01c24" stroke-opacity="0.75"/> <circle cx="469.5" cy="330.6" r="3.6" fill="#e01c24" fill-opacity="0.75" stroke="#e01c24" stroke-opacity="0.75"/> <circle cx="428.9" cy="278.6" r="3.6" fill="#e01c24" fill-opacity="0.75" stroke="#e01c24" stroke-opacity="0.75"/> <circle cx="372.1" cy="353.9" r="3.6" fill="#e01c24" fill-opacity="0.75" stroke="#e01c24" stroke-opacity="0.75"/> <circle cx="424.5" cy="310.0" r="3.6" fill="#e01c24" fill-opacity="0.75" stroke="#e01c24" stroke-opacity="0.75"/> <circle cx="455.8" cy="274.1" r="3.6" fill="#e01c24" fill-opacity="0.75" stroke="#e01c24" stroke-opacity="0.75"/> <circle cx="454.7" cy="303.0" r="3.6" fill="#e01c24" fill-opacity="0.75" stroke="#e01c24" stroke-opacity="0.75"/> <circle cx="463.7" cy="341.5" r="3.6" fill="#e01c24" fill-opacity="0.75" stroke="#e01c24" stroke-opacity="0.75"/> <circle cx="471.6" cy="294.5" r="3.6" fill="#e01c24" fill-opacity="0.75" stroke="#e01c24" stroke-opacity="0.75"/> <circle cx="463.5" cy="325.8" r="3.6" fill="#e01c24" fill-opacity="0.75" stroke="#e01c24" stroke-opacity="0.75"/> <circle cx="491.5" cy="278.5" r="3.6" fill="#e01c24" fill-opacity="0.75" stroke="#e01c24" stroke-opacity="0.75"/> <circle cx="438.5" cy="309.9" r="3.6" fill="#e01c24" fill-opacity="0.75" stroke="#e01c24" stroke-opacity="0.75"/> <circle cx="447.3" cy="337.5" r="3.6" fill="#e01c24" fill-opacity="0.75" stroke="#e01c24" stroke-opacity="0.75"/> <circle cx="474.5" cy="280.4" r="3.6" fill="#e01c24" fill-opacity="0.75" stroke="#e01c24" stroke-opacity="0.75"/> <circle cx="465.6" cy="341.0" r="3.6" fill="#e01c24" fill-opacity="0.75" stroke="#e01c24" stroke-opacity="0.75"/> <circle cx="515.4" cy="358.0" r="3.6" fill="#e01c24" fill-opacity="0.75" stroke="#e01c24" stroke-opacity="0.75"/> <circle cx="466.1" cy="334.8" r="3.6" fill="#e01c24" fill-opacity="0.75" stroke="#e01c24" stroke-opacity="0.75"/> <circle cx="345.4" cy="315.3" r="3.6" fill="#e01c24" fill-opacity="0.75" stroke="#e01c24" stroke-opacity="0.75"/> <circle cx="490.9" cy="342.6" r="3.6" fill="#e01c24" fill-opacity="0.75" stroke="#e01c24" stroke-opacity="0.75"/> <circle cx="481.6" cy="398.1" r="3.6" fill="#e01c24" fill-opacity="0.75" stroke="#e01c24" stroke-opacity="0.75"/> <circle cx="489.5" cy="281.8" r="3.6" fill="#e01c24" fill-opacity="0.75" stroke="#e01c24" stroke-opacity="0.75"/> <circle cx="437.2" cy="297.6" r="3.6" fill="#e01c24" fill-opacity="0.75" stroke="#e01c24" stroke-opacity="0.75"/> <circle cx="372.6" cy="332.2" r="3.6" fill="#e01c24" fill-opacity="0.75" stroke="#e01c24" stroke-opacity="0.75"/> <circle cx="440.4" cy="308.5" r="3.6" fill="#e01c24" fill-opacity="0.75" stroke="#e01c24" stroke-opacity="0.75"/> <circle cx="470.2" cy="306.2" r="3.6" fill="#e01c24" fill-opacity="0.75" stroke="#e01c24" stroke-opacity="0.75"/> <circle cx="449.4" cy="311.3" r="3.6" fill="#e01c24" fill-opacity="0.75" stroke="#e01c24" stroke-opacity="0.75"/> <circle cx="470.4" cy="307.7" r="3.6" fill="#e01c24" fill-opacity="0.75" stroke="#e01c24" stroke-opacity="0.75"/> <circle cx="444.2" cy="298.0" r="3.6" fill="#e01c24" fill-opacity="0.75" stroke="#e01c24" stroke-opacity="0.75"/> <circle cx="438.1" cy="307.3" r="3.6" fill="#e01c24" fill-opacity="0.75" stroke="#e01c24" stroke-opacity="0.75"/> <circle cx="438.8" cy="308.4" r="3.6" fill="#e01c24" fill-opacity="0.75" stroke="#e01c24" stroke-opacity="0.75"/> <circle cx="437.3" cy="300.6" r="3.6" fill="#e01c24" fill-opacity="0.75" stroke="#e01c24" stroke-opacity="0.75"/> <circle cx="499.1" cy="295.1" r="3.6" fill="#e01c24" fill-opacity="0.75" stroke="#e01c24" stroke-opacity="0.75"/> <circle cx="467.9" cy="338.8" r="3.6" fill="#e01c24" fill-opacity="0.75" stroke="#e01c24" stroke-opacity="0.75"/> <circle cx="482.4" cy="265.5" r="3.6" fill="#e01c24" fill-opacity="0.75" stroke="#e01c24" stroke-opacity="0.75"/> <circle cx="435.6" cy="353.1" r="3.6" fill="#e01c24" fill-opacity="0.75" stroke="#e01c24" stroke-opacity="0.75"/> <circle cx="401.4" cy="320.2" r="3.6" fill="#e01c24" fill-opacity="0.75" stroke="#e01c24" stroke-opacity="0.75"/> <circle cx="489.8" cy="354.3" r="3.6" fill="#e01c24" fill-opacity="0.75" stroke="#e01c24" stroke-opacity="0.75"/> <circle cx="446.9" cy="351.5" r="3.6" fill="#e01c24" fill-opacity="0.75" stroke="#e01c24" stroke-opacity="0.75"/> <circle cx="408.1" cy="325.3" r="3.6" fill="#e01c24" fill-opacity="0.75" stroke="#e01c24" stroke-opacity="0.75"/> <circle cx="489.2" cy="329.2" r="3.6" fill="#e01c24" fill-opacity="0.75" stroke="#e01c24" stroke-opacity="0.75"/> <circle cx="513.8" cy="324.6" r="3.6" fill="#e01c24" fill-opacity="0.75" stroke="#e01c24" stroke-opacity="0.75"/> <circle cx="375.4" cy="347.8" r="3.6" fill="#e01c24" fill-opacity="0.75" stroke="#e01c24" stroke-opacity="0.75"/> <circle cx="415.6" cy="328.5" r="3.6" fill="#e01c24" fill-opacity="0.75" stroke="#e01c24" stroke-opacity="0.75"/> <circle cx="460.2" cy="315.5" r="3.6" fill="#e01c24" fill-opacity="0.75" stroke="#e01c24" stroke-opacity="0.75"/> <circle cx="480.4" cy="319.1" r="3.6" fill="#e01c24" fill-opacity="0.75" stroke="#e01c24" stroke-opacity="0.75"/> <circle cx="431.5" cy="303.2" r="3.6" fill="#e01c24" fill-opacity="0.75" stroke="#e01c24" stroke-opacity="0.75"/> <circle cx="449.1" cy="323.4" r="3.6" fill="#e01c24" fill-opacity="0.75" stroke="#e01c24" stroke-opacity="0.75"/> <circle cx="466.5" cy="305.8" r="3.6" fill="#e01c24" fill-opacity="0.75" stroke="#e01c24" stroke-opacity="0.75"/> <circle cx="474.0" cy="308.6" r="3.6" fill="#e01c24" fill-opacity="0.75" stroke="#e01c24" stroke-opacity="0.75"/> <circle cx="469.2" cy="341.6" r="3.6" fill="#e01c24" fill-opacity="0.75" stroke="#e01c24" stroke-opacity="0.75"/> <circle cx="428.0" cy="331.0" r="3.6" fill="#e01c24" fill-opacity="0.75" stroke="#e01c24" stroke-opacity="0.75"/> <circle cx="491.8" cy="296.7" r="3.6" fill="#e01c24" fill-opacity="0.75" stroke="#e01c24" stroke-opacity="0.75"/> <circle cx="411.5" cy="334.8" r="3.6" fill="#e01c24" fill-opacity="0.75" stroke="#e01c24" stroke-opacity="0.75"/> <circle cx="493.1" cy="329.4" r="3.6" fill="#e01c24" fill-opacity="0.75" stroke="#e01c24" stroke-opacity="0.75"/> <circle cx="434.6" cy="335.4" r="3.6" fill="#e01c24" fill-opacity="0.75" stroke="#e01c24" stroke-opacity="0.75"/> <circle cx="455.4" cy="307.6" r="3.6" fill="#e01c24" fill-opacity="0.75" stroke="#e01c24" stroke-opacity="0.75"/> <circle cx="488.8" cy="331.2" r="3.6" fill="#e01c24" fill-opacity="0.75" stroke="#e01c24" stroke-opacity="0.75"/> <circle cx="496.7" cy="280.5" r="3.6" fill="#e01c24" fill-opacity="0.75" stroke="#e01c24" stroke-opacity="0.75"/> <circle cx="449.3" cy="308.8" r="3.6" fill="#e01c24" fill-opacity="0.75" stroke="#e01c24" stroke-opacity="0.75"/> <circle cx="426.2" cy="319.5" r="3.6" fill="#e01c24" fill-opacity="0.75" stroke="#e01c24" stroke-opacity="0.75"/> <circle cx="495.2" cy="301.0" r="3.6" fill="#e01c24" fill-opacity="0.75" stroke="#e01c24" stroke-opacity="0.75"/> <circle cx="431.3" cy="307.6" r="3.6" fill="#e01c24" fill-opacity="0.75" stroke="#e01c24" stroke-opacity="0.75"/> <circle cx="431.4" cy="342.6" r="3.6" fill="#e01c24" fill-opacity="0.75" stroke="#e01c24" stroke-opacity="0.75"/> <circle cx="467.2" cy="309.2" r="3.6" fill="#e01c24" fill-opacity="0.75" stroke="#e01c24" stroke-opacity="0.75"/> <circle cx="439.9" cy="329.0" r="3.6" fill="#e01c24" fill-opacity="0.75" stroke="#e01c24" stroke-opacity="0.75"/> <circle cx="385.1" cy="363.0" r="3.6" fill="#e01c24" fill-opacity="0.75" stroke="#e01c24" stroke-opacity="0.75"/> <circle cx="491.8" cy="295.0" r="3.6" fill="#e01c24" fill-opacity="0.75" stroke="#e01c24" stroke-opacity="0.75"/> <circle cx="458.0" cy="305.1" r="3.6" fill="#e01c24" fill-opacity="0.75" stroke="#e01c24" stroke-opacity="0.75"/> <circle cx="468.0" cy="337.2" r="3.6" fill="#e01c24" fill-opacity="0.75" stroke="#e01c24" stroke-opacity="0.75"/> <circle cx="442.3" cy="344.9" r="3.6" fill="#e01c24" fill-opacity="0.75" stroke="#e01c24" stroke-opacity="0.75"/> <circle cx="469.4" cy="345.5" r="3.6" fill="#e01c24" fill-opacity="0.75" stroke="#e01c24" stroke-opacity="0.75"/> <circle cx="409.1" cy="328.5" r="3.6" fill="#e01c24" fill-opacity="0.75" stroke="#e01c24" stroke-opacity="0.75"/> <circle cx="484.7" cy="333.3" r="3.6" fill="#e01c24" fill-opacity="0.75" stroke="#e01c24" stroke-opacity="0.75"/> <circle cx="487.1" cy="318.0" r="3.6" fill="#e01c24" fill-opacity="0.75" stroke="#e01c24" stroke-opacity="0.75"/> <circle cx="479.1" cy="347.1" r="3.6" fill="#e01c24" fill-opacity="0.75" stroke="#e01c24" stroke-opacity="0.75"/> <circle cx="505.6" cy="324.4" r="3.6" fill="#e01c24" fill-opacity="0.75" stroke="#e01c24" stroke-opacity="0.75"/> <circle cx="485.5" cy="312.7" r="3.6" fill="#e01c24" fill-opacity="0.75" stroke="#e01c24" stroke-opacity="0.75"/> <circle cx="494.4" cy="332.6" r="3.6" fill="#e01c24" fill-opacity="0.75" stroke="#e01c24" stroke-opacity="0.75"/> <circle cx="464.7" cy="313.1" r="3.6" fill="#e01c24" fill-opacity="0.75" stroke="#e01c24" stroke-opacity="0.75"/> </g> <g> <text style="font-size: 11.5px; font-family: DejaVu Sans, sans-serif" transform="translate(383.32 58.88)">3D PCA Visualization</text> <text style="font-size: 11.5px; font-family: DejaVu Sans, sans-serif" transform="translate(323.05 71.76)">First 3 Components: 72.6% Total Variance</text> </g> <g> <circle cx="497.9" cy="312.4" r="3.6" fill="#1a1ac8" fill-opacity="0.75" stroke="#1a1ac8" stroke-opacity="0.75"/> <circle cx="506.8" cy="270.7" r="3.6" fill="#1a1ac8" fill-opacity="0.75" stroke="#1a1ac8" stroke-opacity="0.75"/> <circle cx="526.9" cy="326.5" r="3.6" fill="#1a1ac8" fill-opacity="0.75" stroke="#1a1ac8" stroke-opacity="0.75"/> <circle cx="486.9" cy="355.6" r="3.6" fill="#1a1ac8" fill-opacity="0.75" stroke="#1a1ac8" stroke-opacity="0.75"/> <circle cx="545.9" cy="323.5" r="3.6" fill="#1a1ac8" fill-opacity="0.75" stroke="#1a1ac8" stroke-opacity="0.75"/> <circle cx="537.1" cy="273.0" r="3.6" fill="#1a1ac8" fill-opacity="0.75" stroke="#1a1ac8" stroke-opacity="0.75"/> <circle cx="519.6" cy="302.8" r="3.6" fill="#1a1ac8" fill-opacity="0.75" stroke="#1a1ac8" stroke-opacity="0.75"/> <circle cx="513.9" cy="291.0" r="3.6" fill="#1a1ac8" fill-opacity="0.75" stroke="#1a1ac8" stroke-opacity="0.75"/> <circle cx="531.2" cy="261.8" r="3.6" fill="#1a1ac8" fill-opacity="0.75" stroke="#1a1ac8" stroke-opacity="0.75"/> <circle cx="479.8" cy="310.2" r="3.6" fill="#1a1ac8" fill-opacity="0.75" stroke="#1a1ac8" stroke-opacity="0.75"/> <circle cx="540.9" cy="276.6" r="3.6" fill="#1a1ac8" fill-opacity="0.75" stroke="#1a1ac8" stroke-opacity="0.75"/> <circle cx="513.8" cy="352.4" r="3.6" fill="#1a1ac8" fill-opacity="0.75" stroke="#1a1ac8" stroke-opacity="0.75"/> <circle cx="497.2" cy="308.2" r="3.6" fill="#1a1ac8" fill-opacity="0.75" stroke="#1a1ac8" stroke-opacity="0.75"/> <circle cx="544.3" cy="306.3" r="3.6" fill="#1a1ac8" fill-opacity="0.75" stroke="#1a1ac8" stroke-opacity="0.75"/> <circle cx="565.6" cy="354.3" r="3.6" fill="#1a1ac8" fill-opacity="0.75" stroke="#1a1ac8" stroke-opacity="0.75"/> <circle cx="511.4" cy="279.1" r="3.6" fill="#1a1ac8" fill-opacity="0.75" stroke="#1a1ac8" stroke-opacity="0.75"/> <circle cx="541.9" cy="349.4" r="3.6" fill="#1a1ac8" fill-opacity="0.75" stroke="#1a1ac8" stroke-opacity="0.75"/> <circle cx="524.0" cy="323.4" r="3.6" fill="#1a1ac8" fill-opacity="0.75" stroke="#1a1ac8" stroke-opacity="0.75"/> <circle cx="542.1" cy="298.8" r="3.6" fill="#1a1ac8" fill-opacity="0.75" stroke="#1a1ac8" stroke-opacity="0.75"/> <circle cx="544.3" cy="349.7" r="3.6" fill="#1a1ac8" fill-opacity="0.75" stroke="#1a1ac8" stroke-opacity="0.75"/> <circle cx="487.0" cy="315.0" r="3.6" fill="#1a1ac8" fill-opacity="0.75" stroke="#1a1ac8" stroke-opacity="0.75"/> <circle cx="509.7" cy="305.0" r="3.6" fill="#1a1ac8" fill-opacity="0.75" stroke="#1a1ac8" stroke-opacity="0.75"/> <circle cx="533.1" cy="324.4" r="3.6" fill="#1a1ac8" fill-opacity="0.75" stroke="#1a1ac8" stroke-opacity="0.75"/> <circle cx="541.9" cy="342.4" r="3.6" fill="#1a1ac8" fill-opacity="0.75" stroke="#1a1ac8" stroke-opacity="0.75"/> <circle cx="514.0" cy="298.7" r="3.6" fill="#1a1ac8" fill-opacity="0.75" stroke="#1a1ac8" stroke-opacity="0.75"/> <circle cx="527.2" cy="308.4" r="3.6" fill="#1a1ac8" fill-opacity="0.75" stroke="#1a1ac8" stroke-opacity="0.75"/> <circle cx="523.5" cy="321.7" r="3.6" fill="#1a1ac8" fill-opacity="0.75" stroke="#1a1ac8" stroke-opacity="0.75"/> <circle cx="500.1" cy="344.8" r="3.6" fill="#1a1ac8" fill-opacity="0.75" stroke="#1a1ac8" stroke-opacity="0.75"/> <circle cx="510.3" cy="332.8" r="3.6" fill="#1a1ac8" fill-opacity="0.75" stroke="#1a1ac8" stroke-opacity="0.75"/> <circle cx="532.0" cy="317.1" r="3.6" fill="#1a1ac8" fill-opacity="0.75" stroke="#1a1ac8" stroke-opacity="0.75"/> <circle cx="536.2" cy="294.3" r="3.6" fill="#1a1ac8" fill-opacity="0.75" stroke="#1a1ac8" stroke-opacity="0.75"/> <circle cx="532.0" cy="335.6" r="3.6" fill="#1a1ac8" fill-opacity="0.75" stroke="#1a1ac8" stroke-opacity="0.75"/> <circle cx="496.5" cy="340.1" r="3.6" fill="#1a1ac8" fill-opacity="0.75" stroke="#1a1ac8" stroke-opacity="0.75"/> <circle cx="504.2" cy="314.9" r="3.6" fill="#1a1ac8" fill-opacity="0.75" stroke="#1a1ac8" stroke-opacity="0.75"/> <circle cx="540.5" cy="343.7" r="3.6" fill="#1a1ac8" fill-opacity="0.75" stroke="#1a1ac8" stroke-opacity="0.75"/> <circle cx="544.4" cy="326.9" r="3.6" fill="#1a1ac8" fill-opacity="0.75" stroke="#1a1ac8" stroke-opacity="0.75"/> <circle cx="529.0" cy="329.7" r="3.6" fill="#1a1ac8" fill-opacity="0.75" stroke="#1a1ac8" stroke-opacity="0.75"/> <circle cx="533.7" cy="345.1" r="3.6" fill="#1a1ac8" fill-opacity="0.75" stroke="#1a1ac8" stroke-opacity="0.75"/> <circle cx="486.7" cy="315.7" r="3.6" fill="#1a1ac8" fill-opacity="0.75" stroke="#1a1ac8" stroke-opacity="0.75"/> <circle cx="513.8" cy="315.4" r="3.6" fill="#1a1ac8" fill-opacity="0.75" stroke="#1a1ac8" stroke-opacity="0.75"/> <circle cx="512.7" cy="329.7" r="3.6" fill="#1a1ac8" fill-opacity="0.75" stroke="#1a1ac8" stroke-opacity="0.75"/> <circle cx="518.2" cy="334.8" r="3.6" fill="#1a1ac8" fill-opacity="0.75" stroke="#1a1ac8" stroke-opacity="0.75"/> <circle cx="539.8" cy="333.2" r="3.6" fill="#1a1ac8" fill-opacity="0.75" stroke="#1a1ac8" stroke-opacity="0.75"/> <circle cx="539.7" cy="326.3" r="3.6" fill="#1a1ac8" fill-opacity="0.75" stroke="#1a1ac8" stroke-opacity="0.75"/> <circle cx="492.8" cy="292.4" r="3.6" fill="#1a1ac8" fill-opacity="0.75" stroke="#1a1ac8" stroke-opacity="0.75"/> <circle cx="513.8" cy="357.2" r="3.6" fill="#1a1ac8" fill-opacity="0.75" stroke="#1a1ac8" stroke-opacity="0.75"/> <circle cx="521.2" cy="312.7" r="3.6" fill="#1a1ac8" fill-opacity="0.75" stroke="#1a1ac8" stroke-opacity="0.75"/> <circle cx="516.7" cy="320.8" r="3.6" fill="#1a1ac8" fill-opacity="0.75" stroke="#1a1ac8" stroke-opacity="0.75"/> <circle cx="512.3" cy="308.5" r="3.6" fill="#1a1ac8" fill-opacity="0.75" stroke="#1a1ac8" stroke-opacity="0.75"/> <circle cx="513.2" cy="324.9" r="3.6" fill="#1a1ac8" fill-opacity="0.75" stroke="#1a1ac8" stroke-opacity="0.75"/> <circle cx="552.5" cy="339.1" r="3.6" fill="#1a1ac8" fill-opacity="0.75" stroke="#1a1ac8" stroke-opacity="0.75"/> <circle cx="510.2" cy="348.0" r="3.6" fill="#1a1ac8" fill-opacity="0.75" stroke="#1a1ac8" stroke-opacity="0.75"/> <circle cx="498.0" cy="277.5" r="3.6" fill="#1a1ac8" fill-opacity="0.75" stroke="#1a1ac8" stroke-opacity="0.75"/> <circle cx="498.5" cy="282.5" r="3.6" fill="#1a1ac8" fill-opacity="0.75" stroke="#1a1ac8" stroke-opacity="0.75"/> <circle cx="526.0" cy="307.9" r="3.6" fill="#1a1ac8" fill-opacity="0.75" stroke="#1a1ac8" stroke-opacity="0.75"/> <circle cx="545.8" cy="355.0" r="3.6" fill="#1a1ac8" fill-opacity="0.75" stroke="#1a1ac8" stroke-opacity="0.75"/> <circle cx="528.2" cy="339.9" r="3.6" fill="#1a1ac8" fill-opacity="0.75" stroke="#1a1ac8" stroke-opacity="0.75"/> <circle cx="538.9" cy="351.8" r="3.6" fill="#1a1ac8" fill-opacity="0.75" stroke="#1a1ac8" stroke-opacity="0.75"/> <circle cx="522.0" cy="329.3" r="3.6" fill="#1a1ac8" fill-opacity="0.75" stroke="#1a1ac8" stroke-opacity="0.75"/> <circle cx="515.0" cy="333.7" r="3.6" fill="#1a1ac8" fill-opacity="0.75" stroke="#1a1ac8" stroke-opacity="0.75"/> <circle cx="486.4" cy="308.9" r="3.6" fill="#1a1ac8" fill-opacity="0.75" stroke="#1a1ac8" stroke-opacity="0.75"/> <circle cx="544.4" cy="355.0" r="3.6" fill="#1a1ac8" fill-opacity="0.75" stroke="#1a1ac8" stroke-opacity="0.75"/> <circle cx="519.0" cy="326.2" r="3.6" fill="#1a1ac8" fill-opacity="0.75" stroke="#1a1ac8" stroke-opacity="0.75"/> <circle cx="511.5" cy="353.3" r="3.6" fill="#1a1ac8" fill-opacity="0.75" stroke="#1a1ac8" stroke-opacity="0.75"/> <circle cx="513.4" cy="296.6" r="3.6" fill="#1a1ac8" fill-opacity="0.75" stroke="#1a1ac8" stroke-opacity="0.75"/> <circle cx="489.9" cy="302.4" r="3.6" fill="#1a1ac8" fill-opacity="0.75" stroke="#1a1ac8" stroke-opacity="0.75"/> <circle cx="541.5" cy="321.1" r="3.6" fill="#1a1ac8" fill-opacity="0.75" stroke="#1a1ac8" stroke-opacity="0.75"/> <circle cx="524.3" cy="320.5" r="3.6" fill="#1a1ac8" fill-opacity="0.75" stroke="#1a1ac8" stroke-opacity="0.75"/> <circle cx="525.6" cy="332.8" r="3.6" fill="#1a1ac8" fill-opacity="0.75" stroke="#1a1ac8" stroke-opacity="0.75"/> <circle cx="558.0" cy="336.0" r="3.6" fill="#1a1ac8" fill-opacity="0.75" stroke="#1a1ac8" stroke-opacity="0.75"/> <circle cx="514.8" cy="304.7" r="3.6" fill="#1a1ac8" fill-opacity="0.75" stroke="#1a1ac8" stroke-opacity="0.75"/> <circle cx="518.2" cy="334.2" r="3.6" fill="#1a1ac8" fill-opacity="0.75" stroke="#1a1ac8" stroke-opacity="0.75"/> <circle cx="570.3" cy="311.0" r="3.6" fill="#1a1ac8" fill-opacity="0.75" stroke="#1a1ac8" stroke-opacity="0.75"/> <circle cx="514.3" cy="335.5" r="3.6" fill="#1a1ac8" fill-opacity="0.75" stroke="#1a1ac8" stroke-opacity="0.75"/> <circle cx="540.5" cy="314.2" r="3.6" fill="#1a1ac8" fill-opacity="0.75" stroke="#1a1ac8" stroke-opacity="0.75"/> <circle cx="504.8" cy="280.6" r="3.6" fill="#1a1ac8" fill-opacity="0.75" stroke="#1a1ac8" stroke-opacity="0.75"/> <circle cx="533.7" cy="298.6" r="3.6" fill="#1a1ac8" fill-opacity="0.75" stroke="#1a1ac8" stroke-opacity="0.75"/> <circle cx="509.4" cy="370.2" r="3.6" fill="#1a1ac8" fill-opacity="0.75" stroke="#1a1ac8" stroke-opacity="0.75"/> <circle cx="532.7" cy="343.9" r="3.6" fill="#1a1ac8" fill-opacity="0.75" stroke="#1a1ac8" stroke-opacity="0.75"/> <circle cx="545.2" cy="287.6" r="3.6" fill="#1a1ac8" fill-opacity="0.75" stroke="#1a1ac8" stroke-opacity="0.75"/> <circle cx="527.0" cy="317.7" r="3.6" fill="#1a1ac8" fill-opacity="0.75" stroke="#1a1ac8" stroke-opacity="0.75"/> <circle cx="520.5" cy="289.4" r="3.6" fill="#1a1ac8" fill-opacity="0.75" stroke="#1a1ac8" stroke-opacity="0.75"/> <circle cx="534.4" cy="332.5" r="3.6" fill="#1a1ac8" fill-opacity="0.75" stroke="#1a1ac8" stroke-opacity="0.75"/> <circle cx="514.5" cy="335.7" r="3.6" fill="#1a1ac8" fill-opacity="0.75" stroke="#1a1ac8" stroke-opacity="0.75"/> <circle cx="515.6" cy="321.1" r="3.6" fill="#1a1ac8" fill-opacity="0.75" stroke="#1a1ac8" stroke-opacity="0.75"/> <circle cx="525.7" cy="325.5" r="3.6" fill="#1a1ac8" fill-opacity="0.75" stroke="#1a1ac8" stroke-opacity="0.75"/> <circle cx="503.6" cy="305.9" r="3.6" fill="#1a1ac8" fill-opacity="0.75" stroke="#1a1ac8" stroke-opacity="0.75"/> <circle cx="520.4" cy="311.3" r="3.6" fill="#1a1ac8" fill-opacity="0.75" stroke="#1a1ac8" stroke-opacity="0.75"/> <circle cx="528.8" cy="320.2" r="3.6" fill="#1a1ac8" fill-opacity="0.75" stroke="#1a1ac8" stroke-opacity="0.75"/> <circle cx="538.1" cy="344.1" r="3.6" fill="#1a1ac8" fill-opacity="0.75" stroke="#1a1ac8" stroke-opacity="0.75"/> <circle cx="511.0" cy="317.1" r="3.6" fill="#1a1ac8" fill-opacity="0.75" stroke="#1a1ac8" stroke-opacity="0.75"/> <circle cx="508.7" cy="302.8" r="3.6" fill="#1a1ac8" fill-opacity="0.75" stroke="#1a1ac8" stroke-opacity="0.75"/> <circle cx="526.1" cy="316.4" r="3.6" fill="#1a1ac8" fill-opacity="0.75" stroke="#1a1ac8" stroke-opacity="0.75"/> <circle cx="530.9" cy="308.9" r="3.6" fill="#1a1ac8" fill-opacity="0.75" stroke="#1a1ac8" stroke-opacity="0.75"/> <circle cx="509.5" cy="344.0" r="3.6" fill="#1a1ac8" fill-opacity="0.75" stroke="#1a1ac8" stroke-opacity="0.75"/> <circle cx="527.9" cy="347.0" r="3.6" fill="#1a1ac8" fill-opacity="0.75" stroke="#1a1ac8" stroke-opacity="0.75"/> <circle cx="545.6" cy="349.5" r="3.6" fill="#1a1ac8" fill-opacity="0.75" stroke="#1a1ac8" stroke-opacity="0.75"/> <circle cx="498.0" cy="335.8" r="3.6" fill="#1a1ac8" fill-opacity="0.75" stroke="#1a1ac8" stroke-opacity="0.75"/> <circle cx="534.6" cy="324.5" r="3.6" fill="#1a1ac8" fill-opacity="0.75" stroke="#1a1ac8" stroke-opacity="0.75"/> <circle cx="525.4" cy="337.9" r="3.6" fill="#1a1ac8" fill-opacity="0.75" stroke="#1a1ac8" stroke-opacity="0.75"/> <circle cx="546.7" cy="345.1" r="3.6" fill="#1a1ac8" fill-opacity="0.75" stroke="#1a1ac8" stroke-opacity="0.75"/> <circle cx="541.0" cy="373.2" r="3.6" fill="#1a1ac8" fill-opacity="0.75" stroke="#1a1ac8" stroke-opacity="0.75"/> <circle cx="537.8" cy="348.9" r="3.6" fill="#1a1ac8" fill-opacity="0.75" stroke="#1a1ac8" stroke-opacity="0.75"/> <circle cx="546.5" cy="331.4" r="3.6" fill="#1a1ac8" fill-opacity="0.75" stroke="#1a1ac8" stroke-opacity="0.75"/> <circle cx="543.4" cy="355.2" r="3.6" fill="#1a1ac8" fill-opacity="0.75" stroke="#1a1ac8" stroke-opacity="0.75"/> <circle cx="519.9" cy="305.9" r="3.6" fill="#1a1ac8" fill-opacity="0.75" stroke="#1a1ac8" stroke-opacity="0.75"/> <circle cx="540.6" cy="316.2" r="3.6" fill="#1a1ac8" fill-opacity="0.75" stroke="#1a1ac8" stroke-opacity="0.75"/> <circle cx="546.1" cy="327.4" r="3.6" fill="#1a1ac8" fill-opacity="0.75" stroke="#1a1ac8" stroke-opacity="0.75"/> <circle cx="520.6" cy="318.8" r="3.6" fill="#1a1ac8" fill-opacity="0.75" stroke="#1a1ac8" stroke-opacity="0.75"/> <circle cx="519.4" cy="297.7" r="3.6" fill="#1a1ac8" fill-opacity="0.75" stroke="#1a1ac8" stroke-opacity="0.75"/> <circle cx="493.5" cy="326.7" r="3.6" fill="#1a1ac8" fill-opacity="0.75" stroke="#1a1ac8" stroke-opacity="0.75"/> <circle cx="514.2" cy="330.3" r="3.6" fill="#1a1ac8" fill-opacity="0.75" stroke="#1a1ac8" stroke-opacity="0.75"/> <circle cx="529.9" cy="353.4" r="3.6" fill="#1a1ac8" fill-opacity="0.75" stroke="#1a1ac8" stroke-opacity="0.75"/> <circle cx="505.4" cy="312.3" r="3.6" fill="#1a1ac8" fill-opacity="0.75" stroke="#1a1ac8" stroke-opacity="0.75"/> <circle cx="510.7" cy="368.0" r="3.6" fill="#1a1ac8" fill-opacity="0.75" stroke="#1a1ac8" stroke-opacity="0.75"/> <circle cx="512.5" cy="330.0" r="3.6" fill="#1a1ac8" fill-opacity="0.75" stroke="#1a1ac8" stroke-opacity="0.75"/> <circle cx="530.3" cy="301.4" r="3.6" fill="#1a1ac8" fill-opacity="0.75" stroke="#1a1ac8" stroke-opacity="0.75"/> <circle cx="514.4" cy="309.0" r="3.6" fill="#1a1ac8" fill-opacity="0.75" stroke="#1a1ac8" stroke-opacity="0.75"/> <circle cx="507.2" cy="284.0" r="3.6" fill="#1a1ac8" fill-opacity="0.75" stroke="#1a1ac8" stroke-opacity="0.75"/> <circle cx="522.2" cy="321.7" r="3.6" fill="#1a1ac8" fill-opacity="0.75" stroke="#1a1ac8" stroke-opacity="0.75"/> <circle cx="511.6" cy="306.5" r="3.6" fill="#1a1ac8" fill-opacity="0.75" stroke="#1a1ac8" stroke-opacity="0.75"/> <circle cx="528.2" cy="327.2" r="3.6" fill="#1a1ac8" fill-opacity="0.75" stroke="#1a1ac8" stroke-opacity="0.75"/> <circle cx="524.6" cy="344.9" r="3.6" fill="#1a1ac8" fill-opacity="0.75" stroke="#1a1ac8" stroke-opacity="0.75"/> <circle cx="507.4" cy="310.8" r="3.6" fill="#1a1ac8" fill-opacity="0.75" stroke="#1a1ac8" stroke-opacity="0.75"/> <circle cx="522.4" cy="323.7" r="3.6" fill="#1a1ac8" fill-opacity="0.75" stroke="#1a1ac8" stroke-opacity="0.75"/> <circle cx="521.1" cy="351.6" r="3.6" fill="#1a1ac8" fill-opacity="0.75" stroke="#1a1ac8" stroke-opacity="0.75"/> <circle cx="536.9" cy="328.1" r="3.6" fill="#1a1ac8" fill-opacity="0.75" stroke="#1a1ac8" stroke-opacity="0.75"/> <circle cx="525.4" cy="304.3" r="3.6" fill="#1a1ac8" fill-opacity="0.75" stroke="#1a1ac8" stroke-opacity="0.75"/> <circle cx="551.1" cy="292.7" r="3.6" fill="#1a1ac8" fill-opacity="0.75" stroke="#1a1ac8" stroke-opacity="0.75"/> <circle cx="492.1" cy="304.3" r="3.6" fill="#1a1ac8" fill-opacity="0.75" stroke="#1a1ac8" stroke-opacity="0.75"/> <circle cx="525.6" cy="318.6" r="3.6" fill="#1a1ac8" fill-opacity="0.75" stroke="#1a1ac8" stroke-opacity="0.75"/> <circle cx="530.7" cy="343.4" r="3.6" fill="#1a1ac8" fill-opacity="0.75" stroke="#1a1ac8" stroke-opacity="0.75"/> <circle cx="499.5" cy="314.2" r="3.6" fill="#1a1ac8" fill-opacity="0.75" stroke="#1a1ac8" stroke-opacity="0.75"/> <circle cx="525.0" cy="340.4" r="3.6" fill="#1a1ac8" fill-opacity="0.75" stroke="#1a1ac8" stroke-opacity="0.75"/> <circle cx="528.2" cy="308.5" r="3.6" fill="#1a1ac8" fill-opacity="0.75" stroke="#1a1ac8" stroke-opacity="0.75"/> <circle cx="530.1" cy="289.7" r="3.6" fill="#1a1ac8" fill-opacity="0.75" stroke="#1a1ac8" stroke-opacity="0.75"/> <circle cx="542.7" cy="323.2" r="3.6" fill="#1a1ac8" fill-opacity="0.75" stroke="#1a1ac8" stroke-opacity="0.75"/> <circle cx="544.2" cy="340.8" r="3.6" fill="#1a1ac8" fill-opacity="0.75" stroke="#1a1ac8" stroke-opacity="0.75"/> <circle cx="520.2" cy="355.2" r="3.6" fill="#1a1ac8" fill-opacity="0.75" stroke="#1a1ac8" stroke-opacity="0.75"/> <circle cx="540.2" cy="320.3" r="3.6" fill="#1a1ac8" fill-opacity="0.75" stroke="#1a1ac8" stroke-opacity="0.75"/> <circle cx="523.3" cy="328.8" r="3.6" fill="#1a1ac8" fill-opacity="0.75" stroke="#1a1ac8" stroke-opacity="0.75"/> <circle cx="558.3" cy="303.6" r="3.6" fill="#1a1ac8" fill-opacity="0.75" stroke="#1a1ac8" stroke-opacity="0.75"/> <circle cx="554.2" cy="393.2" r="3.6" fill="#1a1ac8" fill-opacity="0.75" stroke="#1a1ac8" stroke-opacity="0.75"/> <circle cx="493.7" cy="344.9" r="3.6" fill="#1a1ac8" fill-opacity="0.75" stroke="#1a1ac8" stroke-opacity="0.75"/> <circle cx="489.1" cy="316.7" r="3.6" fill="#1a1ac8" fill-opacity="0.75" stroke="#1a1ac8" stroke-opacity="0.75"/> <circle cx="544.2" cy="336.1" r="3.6" fill="#1a1ac8" fill-opacity="0.75" stroke="#1a1ac8" stroke-opacity="0.75"/> <circle cx="511.2" cy="348.7" r="3.6" fill="#1a1ac8" fill-opacity="0.75" stroke="#1a1ac8" stroke-opacity="0.75"/> <circle cx="526.2" cy="318.7" r="3.6" fill="#1a1ac8" fill-opacity="0.75" stroke="#1a1ac8" stroke-opacity="0.75"/> <circle cx="519.2" cy="307.8" r="3.6" fill="#1a1ac8" fill-opacity="0.75" stroke="#1a1ac8" stroke-opacity="0.75"/> <circle cx="520.0" cy="322.9" r="3.6" fill="#1a1ac8" fill-opacity="0.75" stroke="#1a1ac8" stroke-opacity="0.75"/> <circle cx="519.5" cy="335.3" r="3.6" fill="#1a1ac8" fill-opacity="0.75" stroke="#1a1ac8" stroke-opacity="0.75"/> <circle cx="499.0" cy="308.3" r="3.6" fill="#1a1ac8" fill-opacity="0.75" stroke="#1a1ac8" stroke-opacity="0.75"/> <circle cx="534.6" cy="333.4" r="3.6" fill="#1a1ac8" fill-opacity="0.75" stroke="#1a1ac8" stroke-opacity="0.75"/> <circle cx="528.4" cy="312.6" r="3.6" fill="#1a1ac8" fill-opacity="0.75" stroke="#1a1ac8" stroke-opacity="0.75"/> <circle cx="511.7" cy="321.7" r="3.6" fill="#1a1ac8" fill-opacity="0.75" stroke="#1a1ac8" stroke-opacity="0.75"/> <circle cx="525.6" cy="382.0" r="3.6" fill="#1a1ac8" fill-opacity="0.75" stroke="#1a1ac8" stroke-opacity="0.75"/> <circle cx="541.2" cy="329.9" r="3.6" fill="#1a1ac8" fill-opacity="0.75" stroke="#1a1ac8" stroke-opacity="0.75"/> <circle cx="500.5" cy="308.4" r="3.6" fill="#1a1ac8" fill-opacity="0.75" stroke="#1a1ac8" stroke-opacity="0.75"/> <circle cx="519.8" cy="323.5" r="3.6" fill="#1a1ac8" fill-opacity="0.75" stroke="#1a1ac8" stroke-opacity="0.75"/> <circle cx="548.4" cy="328.8" r="3.6" fill="#1a1ac8" fill-opacity="0.75" stroke="#1a1ac8" stroke-opacity="0.75"/> <circle cx="541.4" cy="341.4" r="3.6" fill="#1a1ac8" fill-opacity="0.75" stroke="#1a1ac8" stroke-opacity="0.75"/> <circle cx="557.0" cy="326.8" r="3.6" fill="#1a1ac8" fill-opacity="0.75" stroke="#1a1ac8" stroke-opacity="0.75"/> <circle cx="515.3" cy="333.1" r="3.6" fill="#1a1ac8" fill-opacity="0.75" stroke="#1a1ac8" stroke-opacity="0.75"/> <circle cx="514.8" cy="336.4" r="3.6" fill="#1a1ac8" fill-opacity="0.75" stroke="#1a1ac8" stroke-opacity="0.75"/> <circle cx="528.8" cy="317.4" r="3.6" fill="#1a1ac8" fill-opacity="0.75" stroke="#1a1ac8" stroke-opacity="0.75"/> <circle cx="546.6" cy="330.1" r="3.6" fill="#1a1ac8" fill-opacity="0.75" stroke="#1a1ac8" stroke-opacity="0.75"/> <circle cx="508.2" cy="302.6" r="3.6" fill="#1a1ac8" fill-opacity="0.75" stroke="#1a1ac8" stroke-opacity="0.75"/> <circle cx="527.8" cy="334.1" r="3.6" fill="#1a1ac8" fill-opacity="0.75" stroke="#1a1ac8" stroke-opacity="0.75"/> <circle cx="527.1" cy="348.1" r="3.6" fill="#1a1ac8" fill-opacity="0.75" stroke="#1a1ac8" stroke-opacity="0.75"/> <circle cx="519.6" cy="318.4" r="3.6" fill="#1a1ac8" fill-opacity="0.75" stroke="#1a1ac8" stroke-opacity="0.75"/> <circle cx="518.5" cy="326.6" r="3.6" fill="#1a1ac8" fill-opacity="0.75" stroke="#1a1ac8" stroke-opacity="0.75"/> <circle cx="511.6" cy="325.2" r="3.6" fill="#1a1ac8" fill-opacity="0.75" stroke="#1a1ac8" stroke-opacity="0.75"/> <circle cx="502.4" cy="309.0" r="3.6" fill="#1a1ac8" fill-opacity="0.75" stroke="#1a1ac8" stroke-opacity="0.75"/> <circle cx="533.1" cy="337.0" r="3.6" fill="#1a1ac8" fill-opacity="0.75" stroke="#1a1ac8" stroke-opacity="0.75"/> <circle cx="506.9" cy="318.1" r="3.6" fill="#1a1ac8" fill-opacity="0.75" stroke="#1a1ac8" stroke-opacity="0.75"/> <circle cx="536.6" cy="364.4" r="3.6" fill="#1a1ac8" fill-opacity="0.75" stroke="#1a1ac8" stroke-opacity="0.75"/> <circle cx="524.3" cy="309.8" r="3.6" fill="#1a1ac8" fill-opacity="0.75" stroke="#1a1ac8" stroke-opacity="0.75"/> <circle cx="509.3" cy="350.5" r="3.6" fill="#1a1ac8" fill-opacity="0.75" stroke="#1a1ac8" stroke-opacity="0.75"/> <circle cx="525.8" cy="318.1" r="3.6" fill="#1a1ac8" fill-opacity="0.75" stroke="#1a1ac8" stroke-opacity="0.75"/> <circle cx="522.5" cy="312.5" r="3.6" fill="#1a1ac8" fill-opacity="0.75" stroke="#1a1ac8" stroke-opacity="0.75"/> <circle cx="494.3" cy="300.4" r="3.6" fill="#1a1ac8" fill-opacity="0.75" stroke="#1a1ac8" stroke-opacity="0.75"/> <circle cx="496.0" cy="310.9" r="3.6" fill="#1a1ac8" fill-opacity="0.75" stroke="#1a1ac8" stroke-opacity="0.75"/> <circle cx="527.8" cy="339.3" r="3.6" fill="#1a1ac8" fill-opacity="0.75" stroke="#1a1ac8" stroke-opacity="0.75"/> <circle cx="530.3" cy="382.2" r="3.6" fill="#1a1ac8" fill-opacity="0.75" stroke="#1a1ac8" stroke-opacity="0.75"/> <circle cx="517.7" cy="308.4" r="3.6" fill="#1a1ac8" fill-opacity="0.75" stroke="#1a1ac8" stroke-opacity="0.75"/> <circle cx="504.2" cy="321.0" r="3.6" fill="#1a1ac8" fill-opacity="0.75" stroke="#1a1ac8" stroke-opacity="0.75"/> <circle cx="493.1" cy="323.9" r="3.6" fill="#1a1ac8" fill-opacity="0.75" stroke="#1a1ac8" stroke-opacity="0.75"/> <circle cx="532.3" cy="337.8" r="3.6" fill="#1a1ac8" fill-opacity="0.75" stroke="#1a1ac8" stroke-opacity="0.75"/> <circle cx="516.3" cy="299.3" r="3.6" fill="#1a1ac8" fill-opacity="0.75" stroke="#1a1ac8" stroke-opacity="0.75"/> <circle cx="494.7" cy="334.1" r="3.6" fill="#1a1ac8" fill-opacity="0.75" stroke="#1a1ac8" stroke-opacity="0.75"/> <circle cx="526.6" cy="310.0" r="3.6" fill="#1a1ac8" fill-opacity="0.75" stroke="#1a1ac8" stroke-opacity="0.75"/> <circle cx="520.4" cy="322.1" r="3.6" fill="#1a1ac8" fill-opacity="0.75" stroke="#1a1ac8" stroke-opacity="0.75"/> <circle cx="520.2" cy="295.7" r="3.6" fill="#1a1ac8" fill-opacity="0.75" stroke="#1a1ac8" stroke-opacity="0.75"/> <circle cx="523.8" cy="321.6" r="3.6" fill="#1a1ac8" fill-opacity="0.75" stroke="#1a1ac8" stroke-opacity="0.75"/> <circle cx="512.9" cy="339.6" r="3.6" fill="#1a1ac8" fill-opacity="0.75" stroke="#1a1ac8" stroke-opacity="0.75"/> <circle cx="562.8" cy="335.7" r="3.6" fill="#1a1ac8" fill-opacity="0.75" stroke="#1a1ac8" stroke-opacity="0.75"/> <circle cx="495.0" cy="318.8" r="3.6" fill="#1a1ac8" fill-opacity="0.75" stroke="#1a1ac8" stroke-opacity="0.75"/> <circle cx="514.6" cy="303.8" r="3.6" fill="#1a1ac8" fill-opacity="0.75" stroke="#1a1ac8" stroke-opacity="0.75"/> <circle cx="546.0" cy="356.6" r="3.6" fill="#1a1ac8" fill-opacity="0.75" stroke="#1a1ac8" stroke-opacity="0.75"/> <circle cx="512.4" cy="293.2" r="3.6" fill="#1a1ac8" fill-opacity="0.75" stroke="#1a1ac8" stroke-opacity="0.75"/> <circle cx="504.1" cy="352.0" r="3.6" fill="#1a1ac8" fill-opacity="0.75" stroke="#1a1ac8" stroke-opacity="0.75"/> <circle cx="509.4" cy="312.5" r="3.6" fill="#1a1ac8" fill-opacity="0.75" stroke="#1a1ac8" stroke-opacity="0.75"/> <circle cx="514.2" cy="335.4" r="3.6" fill="#1a1ac8" fill-opacity="0.75" stroke="#1a1ac8" stroke-opacity="0.75"/> <circle cx="494.2" cy="308.3" r="3.6" fill="#1a1ac8" fill-opacity="0.75" stroke="#1a1ac8" stroke-opacity="0.75"/> <circle cx="519.9" cy="325.6" r="3.6" fill="#1a1ac8" fill-opacity="0.75" stroke="#1a1ac8" stroke-opacity="0.75"/> <circle cx="493.2" cy="312.9" r="3.6" fill="#1a1ac8" fill-opacity="0.75" stroke="#1a1ac8" stroke-opacity="0.75"/> <circle cx="515.5" cy="320.4" r="3.6" fill="#1a1ac8" fill-opacity="0.75" stroke="#1a1ac8" stroke-opacity="0.75"/> <circle cx="493.2" cy="293.5" r="3.6" fill="#1a1ac8" fill-opacity="0.75" stroke="#1a1ac8" stroke-opacity="0.75"/> <circle cx="530.4" cy="316.5" r="3.6" fill="#1a1ac8" fill-opacity="0.75" stroke="#1a1ac8" stroke-opacity="0.75"/> <circle cx="538.9" cy="329.9" r="3.6" fill="#1a1ac8" fill-opacity="0.75" stroke="#1a1ac8" stroke-opacity="0.75"/> <circle cx="522.0" cy="318.2" r="3.6" fill="#1a1ac8" fill-opacity="0.75" stroke="#1a1ac8" stroke-opacity="0.75"/> <circle cx="508.2" cy="339.7" r="3.6" fill="#1a1ac8" fill-opacity="0.75" stroke="#1a1ac8" stroke-opacity="0.75"/> <circle cx="523.7" cy="326.6" r="3.6" fill="#1a1ac8" fill-opacity="0.75" stroke="#1a1ac8" stroke-opacity="0.75"/> <circle cx="535.8" cy="317.0" r="3.6" fill="#1a1ac8" fill-opacity="0.75" stroke="#1a1ac8" stroke-opacity="0.75"/> <circle cx="560.1" cy="341.7" r="3.6" fill="#1a1ac8" fill-opacity="0.75" stroke="#1a1ac8" stroke-opacity="0.75"/> <circle cx="541.6" cy="312.9" r="3.6" fill="#1a1ac8" fill-opacity="0.75" stroke="#1a1ac8" stroke-opacity="0.75"/> <circle cx="516.7" cy="324.6" r="3.6" fill="#1a1ac8" fill-opacity="0.75" stroke="#1a1ac8" stroke-opacity="0.75"/> <circle cx="533.4" cy="322.0" r="3.6" fill="#1a1ac8" fill-opacity="0.75" stroke="#1a1ac8" stroke-opacity="0.75"/> <circle cx="510.1" cy="340.8" r="3.6" fill="#1a1ac8" fill-opacity="0.75" stroke="#1a1ac8" stroke-opacity="0.75"/> <circle cx="518.6" cy="346.8" r="3.6" fill="#1a1ac8" fill-opacity="0.75" stroke="#1a1ac8" stroke-opacity="0.75"/> <circle cx="504.3" cy="346.5" r="3.6" fill="#1a1ac8" fill-opacity="0.75" stroke="#1a1ac8" stroke-opacity="0.75"/> <circle cx="533.4" cy="314.2" r="3.6" fill="#1a1ac8" fill-opacity="0.75" stroke="#1a1ac8" stroke-opacity="0.75"/> <circle cx="532.2" cy="328.4" r="3.6" fill="#1a1ac8" fill-opacity="0.75" stroke="#1a1ac8" stroke-opacity="0.75"/> <circle cx="514.7" cy="308.7" r="3.6" fill="#1a1ac8" fill-opacity="0.75" stroke="#1a1ac8" stroke-opacity="0.75"/> <circle cx="529.2" cy="310.3" r="3.6" fill="#1a1ac8" fill-opacity="0.75" stroke="#1a1ac8" stroke-opacity="0.75"/> <circle cx="519.4" cy="308.0" r="3.6" fill="#1a1ac8" fill-opacity="0.75" stroke="#1a1ac8" stroke-opacity="0.75"/> <circle cx="524.4" cy="338.2" r="3.6" fill="#1a1ac8" fill-opacity="0.75" stroke="#1a1ac8" stroke-opacity="0.75"/> <circle cx="509.9" cy="331.7" r="3.6" fill="#1a1ac8" fill-opacity="0.75" stroke="#1a1ac8" stroke-opacity="0.75"/> <circle cx="525.3" cy="325.5" r="3.6" fill="#1a1ac8" fill-opacity="0.75" stroke="#1a1ac8" stroke-opacity="0.75"/> <circle cx="530.0" cy="343.4" r="3.6" fill="#1a1ac8" fill-opacity="0.75" stroke="#1a1ac8" stroke-opacity="0.75"/> <circle cx="542.8" cy="318.7" r="3.6" fill="#1a1ac8" fill-opacity="0.75" stroke="#1a1ac8" stroke-opacity="0.75"/> <circle cx="524.0" cy="327.7" r="3.6" fill="#1a1ac8" fill-opacity="0.75" stroke="#1a1ac8" stroke-opacity="0.75"/> <circle cx="499.8" cy="339.0" r="3.6" fill="#1a1ac8" fill-opacity="0.75" stroke="#1a1ac8" stroke-opacity="0.75"/> <circle cx="527.8" cy="318.7" r="3.6" fill="#1a1ac8" fill-opacity="0.75" stroke="#1a1ac8" stroke-opacity="0.75"/> <circle cx="527.9" cy="320.7" r="3.6" fill="#1a1ac8" fill-opacity="0.75" stroke="#1a1ac8" stroke-opacity="0.75"/> <circle cx="542.7" cy="360.0" r="3.6" fill="#1a1ac8" fill-opacity="0.75" stroke="#1a1ac8" stroke-opacity="0.75"/> <circle cx="537.8" cy="344.8" r="3.6" fill="#1a1ac8" fill-opacity="0.75" stroke="#1a1ac8" stroke-opacity="0.75"/> <circle cx="527.3" cy="363.2" r="3.6" fill="#1a1ac8" fill-opacity="0.75" stroke="#1a1ac8" stroke-opacity="0.75"/> <circle cx="527.3" cy="357.5" r="3.6" fill="#1a1ac8" fill-opacity="0.75" stroke="#1a1ac8" stroke-opacity="0.75"/> <circle cx="500.9" cy="339.4" r="3.6" fill="#1a1ac8" fill-opacity="0.75" stroke="#1a1ac8" stroke-opacity="0.75"/> <circle cx="496.2" cy="340.5" r="3.6" fill="#1a1ac8" fill-opacity="0.75" stroke="#1a1ac8" stroke-opacity="0.75"/> <circle cx="504.8" cy="287.1" r="3.6" fill="#1a1ac8" fill-opacity="0.75" stroke="#1a1ac8" stroke-opacity="0.75"/> <circle cx="514.3" cy="340.2" r="3.6" fill="#1a1ac8" fill-opacity="0.75" stroke="#1a1ac8" stroke-opacity="0.75"/> <circle cx="517.3" cy="316.0" r="3.6" fill="#1a1ac8" fill-opacity="0.75" stroke="#1a1ac8" stroke-opacity="0.75"/> <circle cx="503.6" cy="328.3" r="3.6" fill="#1a1ac8" fill-opacity="0.75" stroke="#1a1ac8" stroke-opacity="0.75"/> <circle cx="544.3" cy="329.1" r="3.6" fill="#1a1ac8" fill-opacity="0.75" stroke="#1a1ac8" stroke-opacity="0.75"/> <circle cx="488.1" cy="340.0" r="3.6" fill="#1a1ac8" fill-opacity="0.75" stroke="#1a1ac8" stroke-opacity="0.75"/> <circle cx="524.1" cy="326.7" r="3.6" fill="#1a1ac8" fill-opacity="0.75" stroke="#1a1ac8" stroke-opacity="0.75"/> <circle cx="542.0" cy="341.6" r="3.6" fill="#1a1ac8" fill-opacity="0.75" stroke="#1a1ac8" stroke-opacity="0.75"/> <circle cx="515.8" cy="307.5" r="3.6" fill="#1a1ac8" fill-opacity="0.75" stroke="#1a1ac8" stroke-opacity="0.75"/> <circle cx="497.2" cy="325.6" r="3.6" fill="#1a1ac8" fill-opacity="0.75" stroke="#1a1ac8" stroke-opacity="0.75"/> <circle cx="491.2" cy="323.9" r="3.6" fill="#1a1ac8" fill-opacity="0.75" stroke="#1a1ac8" stroke-opacity="0.75"/> <circle cx="525.9" cy="325.1" r="3.6" fill="#1a1ac8" fill-opacity="0.75" stroke="#1a1ac8" stroke-opacity="0.75"/> <circle cx="535.1" cy="392.6" r="3.6" fill="#1a1ac8" fill-opacity="0.75" stroke="#1a1ac8" stroke-opacity="0.75"/> <circle cx="511.5" cy="339.3" r="3.6" fill="#1a1ac8" fill-opacity="0.75" stroke="#1a1ac8" stroke-opacity="0.75"/> <circle cx="530.4" cy="332.9" r="3.6" fill="#1a1ac8" fill-opacity="0.75" stroke="#1a1ac8" stroke-opacity="0.75"/> <circle cx="517.2" cy="348.7" r="3.6" fill="#1a1ac8" fill-opacity="0.75" stroke="#1a1ac8" stroke-opacity="0.75"/> <circle cx="497.3" cy="330.1" r="3.6" fill="#1a1ac8" fill-opacity="0.75" stroke="#1a1ac8" stroke-opacity="0.75"/> <circle cx="481.0" cy="360.0" r="3.6" fill="#1a1ac8" fill-opacity="0.75" stroke="#1a1ac8" stroke-opacity="0.75"/> <circle cx="525.9" cy="352.8" r="3.6" fill="#1a1ac8" fill-opacity="0.75" stroke="#1a1ac8" stroke-opacity="0.75"/> <circle cx="509.3" cy="321.1" r="3.6" fill="#1a1ac8" fill-opacity="0.75" stroke="#1a1ac8" stroke-opacity="0.75"/> <circle cx="545.3" cy="350.7" r="3.6" fill="#1a1ac8" fill-opacity="0.75" stroke="#1a1ac8" stroke-opacity="0.75"/> <circle cx="529.0" cy="332.5" r="3.6" fill="#1a1ac8" fill-opacity="0.75" stroke="#1a1ac8" stroke-opacity="0.75"/> <circle cx="519.6" cy="325.9" r="3.6" fill="#1a1ac8" fill-opacity="0.75" stroke="#1a1ac8" stroke-opacity="0.75"/> <circle cx="511.3" cy="332.7" r="3.6" fill="#1a1ac8" fill-opacity="0.75" stroke="#1a1ac8" stroke-opacity="0.75"/> <circle cx="525.1" cy="339.5" r="3.6" fill="#1a1ac8" fill-opacity="0.75" stroke="#1a1ac8" stroke-opacity="0.75"/> <circle cx="498.8" cy="320.7" r="3.6" fill="#1a1ac8" fill-opacity="0.75" stroke="#1a1ac8" stroke-opacity="0.75"/> <circle cx="552.6" cy="361.4" r="3.6" fill="#1a1ac8" fill-opacity="0.75" stroke="#1a1ac8" stroke-opacity="0.75"/> <circle cx="531.1" cy="301.8" r="3.6" fill="#1a1ac8" fill-opacity="0.75" stroke="#1a1ac8" stroke-opacity="0.75"/> <circle cx="528.8" cy="324.9" r="3.6" fill="#1a1ac8" fill-opacity="0.75" stroke="#1a1ac8" stroke-opacity="0.75"/> <circle cx="531.7" cy="344.1" r="3.6" fill="#1a1ac8" fill-opacity="0.75" stroke="#1a1ac8" stroke-opacity="0.75"/> <circle cx="520.4" cy="311.9" r="3.6" fill="#1a1ac8" fill-opacity="0.75" stroke="#1a1ac8" stroke-opacity="0.75"/> <circle cx="523.9" cy="326.9" r="3.6" fill="#1a1ac8" fill-opacity="0.75" stroke="#1a1ac8" stroke-opacity="0.75"/> <circle cx="556.2" cy="322.7" r="3.6" fill="#1a1ac8" fill-opacity="0.75" stroke="#1a1ac8" stroke-opacity="0.75"/> <circle cx="509.6" cy="343.4" r="3.6" fill="#1a1ac8" fill-opacity="0.75" stroke="#1a1ac8" stroke-opacity="0.75"/> <circle cx="511.3" cy="349.9" r="3.6" fill="#1a1ac8" fill-opacity="0.75" stroke="#1a1ac8" stroke-opacity="0.75"/> <circle cx="523.1" cy="341.6" r="3.6" fill="#1a1ac8" fill-opacity="0.75" stroke="#1a1ac8" stroke-opacity="0.75"/> <circle cx="519.9" cy="330.8" r="3.6" fill="#1a1ac8" fill-opacity="0.75" stroke="#1a1ac8" stroke-opacity="0.75"/> <circle cx="504.8" cy="315.4" r="3.6" fill="#1a1ac8" fill-opacity="0.75" stroke="#1a1ac8" stroke-opacity="0.75"/> <circle cx="524.6" cy="320.2" r="3.6" fill="#1a1ac8" fill-opacity="0.75" stroke="#1a1ac8" stroke-opacity="0.75"/> <circle cx="495.9" cy="325.1" r="3.6" fill="#1a1ac8" fill-opacity="0.75" stroke="#1a1ac8" stroke-opacity="0.75"/> <circle cx="538.0" cy="348.3" r="3.6" fill="#1a1ac8" fill-opacity="0.75" stroke="#1a1ac8" stroke-opacity="0.75"/> <circle cx="525.1" cy="340.2" r="3.6" fill="#1a1ac8" fill-opacity="0.75" stroke="#1a1ac8" stroke-opacity="0.75"/> <circle cx="524.5" cy="359.9" r="3.6" fill="#1a1ac8" fill-opacity="0.75" stroke="#1a1ac8" stroke-opacity="0.75"/> <circle cx="514.2" cy="319.4" r="3.6" fill="#1a1ac8" fill-opacity="0.75" stroke="#1a1ac8" stroke-opacity="0.75"/> <circle cx="545.5" cy="338.6" r="3.6" fill="#1a1ac8" fill-opacity="0.75" stroke="#1a1ac8" stroke-opacity="0.75"/> <circle cx="512.8" cy="333.3" r="3.6" fill="#1a1ac8" fill-opacity="0.75" stroke="#1a1ac8" stroke-opacity="0.75"/> <circle cx="527.5" cy="345.9" r="3.6" fill="#1a1ac8" fill-opacity="0.75" stroke="#1a1ac8" stroke-opacity="0.75"/> <circle cx="545.0" cy="322.8" r="3.6" fill="#1a1ac8" fill-opacity="0.75" stroke="#1a1ac8" stroke-opacity="0.75"/> <circle cx="532.3" cy="353.6" r="3.6" fill="#1a1ac8" fill-opacity="0.75" stroke="#1a1ac8" stroke-opacity="0.75"/> <circle cx="525.3" cy="324.4" r="3.6" fill="#1a1ac8" fill-opacity="0.75" stroke="#1a1ac8" stroke-opacity="0.75"/> <circle cx="532.3" cy="348.8" r="3.6" fill="#1a1ac8" fill-opacity="0.75" stroke="#1a1ac8" stroke-opacity="0.75"/> <circle cx="516.5" cy="313.4" r="3.6" fill="#1a1ac8" fill-opacity="0.75" stroke="#1a1ac8" stroke-opacity="0.75"/> <circle cx="515.9" cy="344.3" r="3.6" fill="#1a1ac8" fill-opacity="0.75" stroke="#1a1ac8" stroke-opacity="0.75"/> <circle cx="535.7" cy="321.5" r="3.6" fill="#1a1ac8" fill-opacity="0.75" stroke="#1a1ac8" stroke-opacity="0.75"/> <circle cx="520.8" cy="325.8" r="3.6" fill="#1a1ac8" fill-opacity="0.75" stroke="#1a1ac8" stroke-opacity="0.75"/> <circle cx="504.0" cy="334.8" r="3.6" fill="#1a1ac8" fill-opacity="0.75" stroke="#1a1ac8" stroke-opacity="0.75"/> <circle cx="510.9" cy="324.4" r="3.6" fill="#1a1ac8" fill-opacity="0.75" stroke="#1a1ac8" stroke-opacity="0.75"/> <circle cx="542.6" cy="343.0" r="3.6" fill="#1a1ac8" fill-opacity="0.75" stroke="#1a1ac8" stroke-opacity="0.75"/> <circle cx="531.3" cy="348.9" r="3.6" fill="#1a1ac8" fill-opacity="0.75" stroke="#1a1ac8" stroke-opacity="0.75"/> <circle cx="527.5" cy="326.3" r="3.6" fill="#1a1ac8" fill-opacity="0.75" stroke="#1a1ac8" stroke-opacity="0.75"/> <circle cx="518.4" cy="313.2" r="3.6" fill="#1a1ac8" fill-opacity="0.75" stroke="#1a1ac8" stroke-opacity="0.75"/> <circle cx="531.8" cy="325.1" r="3.6" fill="#1a1ac8" fill-opacity="0.75" stroke="#1a1ac8" stroke-opacity="0.75"/> <circle cx="506.8" cy="333.3" r="3.6" fill="#1a1ac8" fill-opacity="0.75" stroke="#1a1ac8" stroke-opacity="0.75"/> <circle cx="514.8" cy="337.5" r="3.6" fill="#1a1ac8" fill-opacity="0.75" stroke="#1a1ac8" stroke-opacity="0.75"/> <circle cx="539.3" cy="318.4" r="3.6" fill="#1a1ac8" fill-opacity="0.75" stroke="#1a1ac8" stroke-opacity="0.75"/> <circle cx="526.9" cy="328.6" r="3.6" fill="#1a1ac8" fill-opacity="0.75" stroke="#1a1ac8" stroke-opacity="0.75"/> <circle cx="524.0" cy="339.5" r="3.6" fill="#1a1ac8" fill-opacity="0.75" stroke="#1a1ac8" stroke-opacity="0.75"/> <circle cx="516.7" cy="320.1" r="3.6" fill="#1a1ac8" fill-opacity="0.75" stroke="#1a1ac8" stroke-opacity="0.75"/> <circle cx="539.7" cy="334.5" r="3.6" fill="#1a1ac8" fill-opacity="0.75" stroke="#1a1ac8" stroke-opacity="0.75"/> <circle cx="493.6" cy="320.6" r="3.6" fill="#1a1ac8" fill-opacity="0.75" stroke="#1a1ac8" stroke-opacity="0.75"/> <circle cx="540.0" cy="333.9" r="3.6" fill="#1a1ac8" fill-opacity="0.75" stroke="#1a1ac8" stroke-opacity="0.75"/> <circle cx="518.1" cy="341.3" r="3.6" fill="#1a1ac8" fill-opacity="0.75" stroke="#1a1ac8" stroke-opacity="0.75"/> <circle cx="518.1" cy="343.6" r="3.6" fill="#1a1ac8" fill-opacity="0.75" stroke="#1a1ac8" stroke-opacity="0.75"/> <circle cx="497.9" cy="317.2" r="3.6" fill="#1a1ac8" fill-opacity="0.75" stroke="#1a1ac8" stroke-opacity="0.75"/> <circle cx="519.9" cy="317.2" r="3.6" fill="#1a1ac8" fill-opacity="0.75" stroke="#1a1ac8" stroke-opacity="0.75"/> <circle cx="522.5" cy="332.9" r="3.6" fill="#1a1ac8" fill-opacity="0.75" stroke="#1a1ac8" stroke-opacity="0.75"/> <circle cx="511.0" cy="342.7" r="3.6" fill="#1a1ac8" fill-opacity="0.75" stroke="#1a1ac8" stroke-opacity="0.75"/> <circle cx="525.5" cy="354.8" r="3.6" fill="#1a1ac8" fill-opacity="0.75" stroke="#1a1ac8" stroke-opacity="0.75"/> <circle cx="518.9" cy="335.0" r="3.6" fill="#1a1ac8" fill-opacity="0.75" stroke="#1a1ac8" stroke-opacity="0.75"/> <circle cx="516.3" cy="344.7" r="3.6" fill="#1a1ac8" fill-opacity="0.75" stroke="#1a1ac8" stroke-opacity="0.75"/> <circle cx="523.6" cy="318.4" r="3.6" fill="#1a1ac8" fill-opacity="0.75" stroke="#1a1ac8" stroke-opacity="0.75"/> <circle cx="506.2" cy="346.5" r="3.6" fill="#1a1ac8" fill-opacity="0.75" stroke="#1a1ac8" stroke-opacity="0.75"/> <circle cx="531.3" cy="337.5" r="3.6" fill="#1a1ac8" fill-opacity="0.75" stroke="#1a1ac8" stroke-opacity="0.75"/> <circle cx="513.5" cy="331.0" r="3.6" fill="#1a1ac8" fill-opacity="0.75" stroke="#1a1ac8" stroke-opacity="0.75"/> <circle cx="540.7" cy="339.5" r="3.6" fill="#1a1ac8" fill-opacity="0.75" stroke="#1a1ac8" stroke-opacity="0.75"/> <circle cx="509.0" cy="331.9" r="3.6" fill="#1a1ac8" fill-opacity="0.75" stroke="#1a1ac8" stroke-opacity="0.75"/> <circle cx="519.2" cy="347.6" r="3.6" fill="#1a1ac8" fill-opacity="0.75" stroke="#1a1ac8" stroke-opacity="0.75"/> <circle cx="520.2" cy="324.8" r="3.6" fill="#1a1ac8" fill-opacity="0.75" stroke="#1a1ac8" stroke-opacity="0.75"/> <circle cx="506.3" cy="337.8" r="3.6" fill="#1a1ac8" fill-opacity="0.75" stroke="#1a1ac8" stroke-opacity="0.75"/> <circle cx="514.4" cy="340.5" r="3.6" fill="#1a1ac8" fill-opacity="0.75" stroke="#1a1ac8" stroke-opacity="0.75"/> <circle cx="517.5" cy="333.9" r="3.6" fill="#1a1ac8" fill-opacity="0.75" stroke="#1a1ac8" stroke-opacity="0.75"/> <circle cx="524.9" cy="308.4" r="3.6" fill="#1a1ac8" fill-opacity="0.75" stroke="#1a1ac8" stroke-opacity="0.75"/> <circle cx="506.7" cy="354.5" r="3.6" fill="#1a1ac8" fill-opacity="0.75" stroke="#1a1ac8" stroke-opacity="0.75"/> <circle cx="515.7" cy="342.8" r="3.6" fill="#1a1ac8" fill-opacity="0.75" stroke="#1a1ac8" stroke-opacity="0.75"/> <circle cx="514.9" cy="316.4" r="3.6" fill="#1a1ac8" fill-opacity="0.75" stroke="#1a1ac8" stroke-opacity="0.75"/> <circle cx="513.8" cy="338.4" r="3.6" fill="#1a1ac8" fill-opacity="0.75" stroke="#1a1ac8" stroke-opacity="0.75"/> <circle cx="536.7" cy="349.5" r="3.6" fill="#1a1ac8" fill-opacity="0.75" stroke="#1a1ac8" stroke-opacity="0.75"/> <circle cx="503.3" cy="332.8" r="3.6" fill="#1a1ac8" fill-opacity="0.75" stroke="#1a1ac8" stroke-opacity="0.75"/> <circle cx="516.7" cy="347.5" r="3.6" fill="#1a1ac8" fill-opacity="0.75" stroke="#1a1ac8" stroke-opacity="0.75"/> <circle cx="535.0" cy="348.0" r="3.6" fill="#1a1ac8" fill-opacity="0.75" stroke="#1a1ac8" stroke-opacity="0.75"/> <circle cx="528.3" cy="328.1" r="3.6" fill="#1a1ac8" fill-opacity="0.75" stroke="#1a1ac8" stroke-opacity="0.75"/> <circle cx="516.4" cy="331.5" r="3.6" fill="#1a1ac8" fill-opacity="0.75" stroke="#1a1ac8" stroke-opacity="0.75"/> <circle cx="509.7" cy="345.3" r="3.6" fill="#1a1ac8" fill-opacity="0.75" stroke="#1a1ac8" stroke-opacity="0.75"/> <circle cx="530.4" cy="343.8" r="3.6" fill="#1a1ac8" fill-opacity="0.75" stroke="#1a1ac8" stroke-opacity="0.75"/> <circle cx="523.0" cy="354.1" r="3.6" fill="#1a1ac8" fill-opacity="0.75" stroke="#1a1ac8" stroke-opacity="0.75"/> <circle cx="516.2" cy="347.5" r="3.6" fill="#1a1ac8" fill-opacity="0.75" stroke="#1a1ac8" stroke-opacity="0.75"/> <circle cx="528.0" cy="365.3" r="3.6" fill="#1a1ac8" fill-opacity="0.75" stroke="#1a1ac8" stroke-opacity="0.75"/> <circle cx="500.7" cy="324.0" r="3.6" fill="#1a1ac8" fill-opacity="0.75" stroke="#1a1ac8" stroke-opacity="0.75"/> <circle cx="508.8" cy="334.2" r="3.6" fill="#1a1ac8" fill-opacity="0.75" stroke="#1a1ac8" stroke-opacity="0.75"/> <circle cx="534.1" cy="334.8" r="3.6" fill="#1a1ac8" fill-opacity="0.75" stroke="#1a1ac8" stroke-opacity="0.75"/> <circle cx="510.4" cy="352.8" r="3.6" fill="#1a1ac8" fill-opacity="0.75" stroke="#1a1ac8" stroke-opacity="0.75"/> <circle cx="481.1" cy="363.8" r="3.6" fill="#1a1ac8" fill-opacity="0.75" stroke="#1a1ac8" stroke-opacity="0.75"/> <circle cx="534.5" cy="349.1" r="3.6" fill="#1a1ac8" fill-opacity="0.75" stroke="#1a1ac8" stroke-opacity="0.75"/> <circle cx="526.9" cy="354.2" r="3.6" fill="#1a1ac8" fill-opacity="0.75" stroke="#1a1ac8" stroke-opacity="0.75"/> <circle cx="524.5" cy="352.9" r="3.6" fill="#1a1ac8" fill-opacity="0.75" stroke="#1a1ac8" stroke-opacity="0.75"/> <circle cx="528.4" cy="363.8" r="3.6" fill="#1a1ac8" fill-opacity="0.75" stroke="#1a1ac8" stroke-opacity="0.75"/> </g> <g transform="translate(0.00 1.69) translate(687.03 83.01) scale(1) translate(-687.03 -83.01)"> <g> <path d="M 598.30 116.98 L 684.93 116.98 Q 687.03 116.98 687.03 114.88 L 687.03 85.11 Q 687.03 83.01 684.93 83.01 L 598.30 83.01 Q 596.20 83.01 596.20 85.11 L 596.20 114.88 Q 596.20 116.98 598.30 116.98 z " style="fill: #ffffff; opacity: 0.8; stroke: #eeeeee; stroke-linejoin: miter"/> </g> <g> <g> <circle cx="610.9" cy="92.4" r="3.6" fill="#e01c24" fill-opacity="0.75" stroke="#e01c24" stroke-opacity="0.75"/> </g> </g> <g> <text style="font-size: 10.5px; font-family: DejaVu Sans, sans-serif; text-anchor: start" x="629.80" y="95.18" transform="rotate(-0 629.80 95.18)">malignant</text> </g> <g> <g> <circle cx="610.9" cy="107.8" r="3.6" fill="#1a1ac8" fill-opacity="0.75" stroke="#1a1ac8" stroke-opacity="0.75"/> </g> </g> <g> <text style="font-size: 10.5px; font-family: DejaVu Sans, sans-serif; text-anchor: start" x="629.80" y="110.60" transform="rotate(-0 629.80 110.60)">benign</text> </g> </g> </g> </g> </svg></div>
<svg class="abs" id="logo" width="40" height="40" viewBox="581.3 64.4 40 40">
<circle cx="601.3" cy="84.6" r="16.6" fill="none" stroke="#d6cab4" stroke-width="1.5"/>
<g fill="none" stroke="#d6cab4" stroke-width="1.15" transform="translate(0.2 0.6)">
<path d="M596.5 75 Q596.5 73.3 598.3 73.3 H604 Q605.8 73.3 605.8 75 V80.3 H601.2 Q599.8 80.3 599.8 81.8 V89.5 H591.3 Q589.6 89.5 589.6 87.8 V81.8 Q589.6 80.1 591.3 80.1 H596.5 Z"/>
<path d="M605.9 94.5 Q605.9 96.2 604.1 96.2 H598.4 Q596.6 96.2 596.6 94.5 V89.2 H601.2 Q602.6 89.2 602.6 87.7 V80 H611.6 Q613.3 80 613.3 81.7 V87.7 Q613.3 89.4 611.6 89.4 H605.9 Z"/>
</g>
<circle cx="598.8" cy="76.7" r="0.9" fill="#d8c890"/>
<circle cx="603.6" cy="94.4" r="0.9" fill="#d8c890"/>
</svg>
<div class="abs" id="handle">@digitalsreeni</div>
<svg class="abs" id="person" width="640" height="480" viewBox="0 0 640 480">
<defs>
<pattern id="chk" width="4" height="5" patternUnits="userSpaceOnUse">
<rect width="4" height="5" fill="#666c8b"/>
<rect x="1.5" y="1.4" width="2.5" height="3.6" fill="#abb0c9"/>
<rect x="0" y="1.4" width="1.5" height="3.6" fill="#40456a"/>
<rect width="1.5" height="1.4" fill="#262a46"/>
</pattern>
<pattern id="chkL" width="4" height="5" patternUnits="userSpaceOnUse" patternTransform="rotate(-28) scale(1.15)">
<rect width="4" height="5" fill="#666c8b"/>
<rect x="1.5" y="1.4" width="2.5" height="3.6" fill="#abb0c9"/>
<rect x="0" y="1.4" width="1.5" height="3.6" fill="#40456a"/>
<rect width="1.5" height="1.4" fill="#262a46"/>
</pattern>
<pattern id="chkR" width="4" height="5" patternUnits="userSpaceOnUse" patternTransform="rotate(8) scale(1.08)">
<rect width="4" height="5" fill="#666c8b"/>
<rect x="1.5" y="1.4" width="2.5" height="3.6" fill="#abb0c9"/>
<rect x="0" y="1.4" width="1.5" height="3.6" fill="#40456a"/>
<rect width="1.5" height="1.4" fill="#262a46"/>
</pattern>
<linearGradient id="glight" x1="0" y1="220" x2="0" y2="420" gradientUnits="userSpaceOnUse">
<stop offset="0" stop-color="#fff" stop-opacity="0.16"/>
<stop offset="0.45" stop-color="#fff" stop-opacity="0"/>
<stop offset="0.8" stop-color="#000" stop-opacity="0"/>
<stop offset="1" stop-color="#000" stop-opacity="0.12"/>
</linearGradient>
<filter id="soft" x="-5%" y="-5%" width="110%" height="110%"><feGaussianBlur stdDeviation="0.45"/></filter>
<filter id="b05" x="-20%" y="-20%" width="140%" height="140%"><feGaussianBlur stdDeviation="0.6"/></filter>
<filter id="b1" x="-20%" y="-20%" width="140%" height="140%"><feGaussianBlur stdDeviation="1.2"/></filter>
<filter id="b2" x="-30%" y="-30%" width="160%" height="160%"><feGaussianBlur stdDeviation="2.5"/></filter>
<filter id="b4" x="-30%" y="-30%" width="160%" height="160%"><feGaussianBlur stdDeviation="5"/></filter>
<filter id="hairtex" x="-5%" y="-5%" width="110%" height="110%">
<feTurbulence type="fractalNoise" baseFrequency="0.55 0.8" numOctaves="2" seed="3" result="n0"/>
<feGaussianBlur in="n0" stdDeviation="0.35" result="n"/>
<feColorMatrix in="n" type="matrix" values="0 0 0 0 0.64  0 0 0 0 0.54  0 0 0 0 0.44  0 0 0 0.8 -0.4" result="light"/>
<feColorMatrix in="n" type="matrix" values="0 0 0 0 0.2  0 0 0 0 0.15  0 0 0 0 0.1  0 0 0 -1.1 0.5" result="dark"/>
<feComposite in="light" in2="SourceGraphic" operator="in" result="ld"/>
<feComposite in="dark" in2="SourceGraphic" operator="in" result="dd"/>
<feGaussianBlur in="SourceGraphic" stdDeviation="0.5" result="sg"/>
<feMerge><feMergeNode in="sg"/><feMergeNode in="dd"/><feMergeNode in="ld"/></feMerge>
</filter>
<radialGradient id="gface" cx="0.5" cy="0.38" r="0.6">
<stop offset="0" stop-color="#c8957a"/>
<stop offset="0.6" stop-color="#b98a72"/>
<stop offset="1" stop-color="#8a6250"/>
</radialGradient>
<linearGradient id="ghair" x1="0" y1="0" x2="0" y2="1">
<stop offset="0" stop-color="#6c5644"/>
<stop offset="0.6" stop-color="#5c4838"/>
<stop offset="1" stop-color="#787068"/>
</linearGradient>
<linearGradient id="gshade" x1="0" y1="0" x2="1" y2="0">
<stop offset="0" stop-color="#000" stop-opacity="0.2"/>
<stop offset="0.12" stop-color="#000" stop-opacity="0"/>
<stop offset="0.88" stop-color="#000" stop-opacity="0"/>
<stop offset="1" stop-color="#000" stop-opacity="0.3"/>
</linearGradient>
</defs>
<g filter="url(#soft)">
<!-- neck -->
<path d="M478 205 L540 200 L535 226 C530 245 522 262 513 279 C503 262 492 246 481 229 Z" fill="#a06e5c"/>
<path d="M481 229 C488 240 497 256 505 268 L513 279 L502 266 C494 254 488 244 486 226 Z" fill="#4a2e24" opacity="0.8" filter="url(#b2)"/>
<path d="M482 226 C495 242 526 242 536 224 L534 238 C520 250 500 250 484 240 Z" fill="#5e3e30" opacity="0.65" filter="url(#b2)"/>
<!-- shirt -->
<path id="shirt" d="M479.5 225.6 C474 233 466 240 455 246 C445 250 432 254 422 261 C412 268 406 280 403 295 C400 310 398 330 397 355 L395.5 420 L640 420 L640 400 C639 378 635 345 627 305 C621 282 613 264 602 253 C582 244 560 238 536 222 C533 240 526 260 516.5 276 L513 279 C504 266 492 246 481 229 Z" fill="url(#chk)"/>
<path d="M479.5 225.6 C474 233 466 240 455 246 C445 250 432 254 422 261 C412 268 406 280 403 295 C400 310 398 330 397 355 L395.5 420 L640 420 L640 400 C639 378 635 345 627 305 C621 282 613 264 602 253 C582 244 560 238 536 222 C533 240 526 260 516.5 276 L513 279 C504 266 492 246 481 229 Z" fill="url(#gshade)"/>
<path d="M455 246 C445 250 432 254 422 261 C412 268 406 280 403 295 C400 310 398 330 397 355 L395.5 420 L440 420 C442 400 444 370 445 340 C445 310 441 280 432 256 Z" fill="url(#chkL)"/>
<path d="M479.5 225.6 C474 233 466 240 455 246 C445 250 432 254 422 261 C412 268 406 280 403 295 C400 310 398 330 397 355 L395.5 420 L640 420 L640 400 C639 378 635 345 627 305 C621 282 613 264 602 253 C582 244 560 238 536 222 C533 240 526 260 516.5 276 L513 279 C504 266 492 246 481 229 Z" fill="url(#glight)"/>
<!-- shirt shading -->
<path d="M432 254 C440 275 444 300 445 330 C446 350 444 365 441 378" stroke="#12162c" stroke-width="3" fill="none" opacity="0.45" filter="url(#b1)"/>
<path d="M446 330 C452 350 460 372 472 395 L482 412 L468 416 C456 390 446 360 442 335 Z" fill="#0a0e22" opacity="0.45" filter="url(#b4)"/>
<path d="M506 284 L510 420" stroke="#1c2140" stroke-width="1.6" opacity="0.5" filter="url(#b05)"/>
<path d="M527 284 L532 420" stroke="#1c2140" stroke-width="1.2" opacity="0.35" filter="url(#b05)"/>
<path d="M425 258 C440 252 460 246 474 240 L468 246 C452 254 438 258 425 264 Z" fill="#dfe3f4" opacity="0.22" filter="url(#b2)"/>
<path d="M540 232 C560 240 585 246 600 254 L596 260 C580 252 560 246 542 240 Z" fill="#dfe3f4" opacity="0.18" filter="url(#b2)"/>
<!-- collar edges -->
<path d="M481 229 C490 244 500 262 511 278" stroke="#20253f" stroke-width="1.6" fill="none" opacity="0.8"/>
<path d="M535 224 C533 240 527 258 517 276" stroke="#20253f" stroke-width="1.6" fill="none" opacity="0.8"/>
<path d="M463 250 C475 262 490 272 508 286" stroke="#20253f" stroke-width="1.4" fill="none" opacity="0.6" filter="url(#b05)"/>
<path d="M560 241 C548 256 535 272 522 284" stroke="#20253f" stroke-width="1.4" fill="none" opacity="0.6" filter="url(#b05)"/>
<path d="M508 276 L519 276 L516 283 L511 283 Z" fill="#2e3660"/>
<!-- buttons -->
<circle cx="516.6" cy="293" r="2.2" fill="#5a6180"/>
<circle cx="518.5" cy="348" r="2.7" fill="#6a7090"/><circle cx="518.5" cy="348" r="1.8" fill="#3a4060"/>
<circle cx="522" cy="397" r="2.7" fill="#6a7090"/><circle cx="522" cy="397" r="1.8" fill="#3a4060"/>
<!-- forearm -->
<path d="M468 420 L469 412 C495 410 525 405 552 400 C568 396 580 390 590 385 L600 386 L600 420 Z" fill="#9e6a56"/>
<path d="M472 416 C500 414 530 410 556 405 C570 401 580 396 588 391 L590 402 C570 410 540 416 500 418 Z" fill="#b88068" opacity="0.7" filter="url(#b2)"/>
<path d="M469 412 C495 410 525 405 552 400 C568 396 580 390 590 385" stroke="#3a2420" stroke-width="2" fill="none" opacity="0.5" filter="url(#b05)"/>
<!-- right sleeve overlay -->
<path d="M602 253 C598 275 594 300 592 325 C590 355 589 385 588 420 L640 420 L640 400 C639 378 635 345 627 305 C621 282 613 264 602 253 Z" fill="url(#chkR)"/>
<path d="M602 253 C598 275 594 300 592 325 C590 355 589 385 588 420 L640 420 L640 400 C639 378 635 345 627 305 C621 282 613 264 602 253 Z" fill="#000" opacity="0.12"/>
<path d="M602 256 C598 278 594 302 592 327 C590 357 589 387 588 420" stroke="#141a34" stroke-width="2.4" fill="none" opacity="0.55" filter="url(#b1)"/>
<path d="M634 335 C625 345 615 352 606 356" stroke="#141a34" stroke-width="2" fill="none" opacity="0.4" filter="url(#b1)"/>
<!-- hand -->
<path d="M446 362 L482 398 L488 418 L486 420 L446 420 L438 398 Z" fill="#1a1420" opacity="0.65" filter="url(#b2)"/>
<g stroke-linecap="round" fill="none" filter="url(#b05)">
<line x1="445" y1="375.5" x2="464" y2="399" stroke="#8a5648" stroke-width="7.4"/>
<line x1="433.5" y1="380.5" x2="460" y2="406" stroke="#5a3830" stroke-width="9.2"/>
<line x1="433.5" y1="380.5" x2="460" y2="406" stroke="#c89078" stroke-width="7.8"/>
<line x1="424.5" y1="398" x2="455" y2="411" stroke="#5a3830" stroke-width="8.8"/>
<line x1="424.5" y1="398" x2="455" y2="411" stroke="#c48c74" stroke-width="7.4"/>
<line x1="425" y1="417.5" x2="450" y2="419.5" stroke="#5a3830" stroke-width="8.4"/>
<line x1="425" y1="417.5" x2="450" y2="419.5" stroke="#c28a74" stroke-width="7"/>
</g>
<path d="M452 400 L472 403 L482 412 L484 420 L448 420 L446 410 Z" fill="#b27a64" filter="url(#b05)"/>
<ellipse cx="437" cy="383" rx="3.5" ry="2.4" fill="#dcaa90" opacity="0.6" filter="url(#b1)"/>
<ellipse cx="428" cy="399" rx="3.5" ry="2.4" fill="#dcaa90" opacity="0.5" filter="url(#b1)"/>
<path d="M449.5 411 C451.5 413 452.5 415 452 418" stroke="#c8a050" stroke-width="1.3" fill="none"/>
<!-- face base -->
<path d="M459 150 C459 164 461 178 464 190 C467 203 472 212 479 220 C487 232 495 238 504 238 C515 238 525 232 533 221 C539 212 541.5 200 543 186 C544.5 172 544.5 156 543.5 140 C540 120 528 110 505 109 C482 109 467 118 462 132 Z" fill="#c2896a"/>
<ellipse cx="502" cy="143" rx="28" ry="14" fill="#d69c76" opacity="0.9" filter="url(#b4)"/>
<ellipse cx="505" cy="182" rx="5.5" ry="12" fill="#dca280" opacity="0.8" filter="url(#b2)"/>
<ellipse cx="483" cy="194" rx="11" ry="8" fill="#d49a76" opacity="0.8" filter="url(#b2)"/>
<ellipse cx="526" cy="192" rx="9" ry="8" fill="#cc9474" opacity="0.7" filter="url(#b2)"/>
<ellipse cx="504" cy="226" rx="13" ry="8" fill="#c8987e" opacity="0.6" filter="url(#b2)"/>
<!-- side shadows -->
<path d="M464 150 C463 172 467 196 478 214 L470 215 C462 198 459 172 460 150 Z" fill="#6a4636" opacity="0.35" filter="url(#b2)"/>
<path d="M537 145 C539 172 536 198 528 214 L536 216 C542 198 544 172 543 145 Z" fill="#5a3a2e" opacity="0.5" filter="url(#b2)"/>
<!-- stubble tint lower face -->
<path d="M474 204 C478 222 492 234 504 234 C518 234 530 222 536 204 C530 216 520 226 504 226 C490 226 480 216 474 204 Z" fill="#857870" opacity="0.18" filter="url(#b2)"/>
<!-- eye sockets -->
<ellipse cx="487" cy="168.5" rx="13.5" ry="8.5" fill="#563628" opacity="0.6" filter="url(#b2)"/>
<ellipse cx="523" cy="167" rx="13" ry="8.5" fill="#563628" opacity="0.6" filter="url(#b2)"/>
<!-- brows -->
<path d="M473.5 164 C478 160.5 486 159.5 497 163" stroke="#4e362a" stroke-width="2.8" fill="none" opacity="0.6" filter="url(#b05)"/>
<path d="M513.5 160.5 C518 158.5 526 158 533.5 162" stroke="#4e362a" stroke-width="2.8" fill="none" opacity="0.6" filter="url(#b05)"/>
<!-- eyes -->
<path d="M477.5 173.3 C481 167.6 492 167 497 172 C493 176.2 482.5 176.6 477.5 173.3 Z" fill="#8a6a60" filter="url(#b05)"/>
<path d="M513.5 170.9 C517 165.6 528 165.3 532 170 C528 174 518.5 174.3 513.5 170.9 Z" fill="#8a6a60" filter="url(#b05)"/>
<ellipse cx="487.5" cy="171.6" rx="5.2" ry="3.2" fill="#1e120e" filter="url(#b05)"/>
<ellipse cx="523" cy="169.4" rx="5.2" ry="3.2" fill="#1e120e" filter="url(#b05)"/>
<path d="M477.5 173.3 C481 167.6 492 167 497 172" stroke="#1e120e" stroke-width="1.2" fill="none" opacity="0.8"/>
<path d="M513.5 170.9 C517 165.6 528 165.3 532 170" stroke="#1e120e" stroke-width="1.2" fill="none" opacity="0.8"/>
<circle cx="485.8" cy="170.8" r="0.8" fill="#d0c0b8"/>
<circle cx="489.6" cy="170.6" r="0.7" fill="#d0c0b8"/>
<circle cx="521.3" cy="168.6" r="0.8" fill="#d0c0b8"/>
<circle cx="525" cy="168.4" r="0.7" fill="#d0c0b8"/>
<!-- nose -->
<path d="M495 191 C494 196 498 198.5 504.5 198 C511 198.5 516 196 515 191" stroke="#6e4436" stroke-width="2" fill="none" opacity="0.5" filter="url(#b1)"/>
<ellipse cx="499" cy="195.5" rx="2.2" ry="1.2" fill="#4a2a22" opacity="0.55" filter="url(#b05)"/>
<ellipse cx="510.5" cy="195.5" rx="2.2" ry="1.2" fill="#4a2a22" opacity="0.55" filter="url(#b05)"/>
<ellipse cx="505" cy="190.5" rx="4" ry="3" fill="#deae90" opacity="0.6" filter="url(#b1)"/>
<!-- moustache stubble -->
<path d="M490 199 C498 201 512 201 522 199 L521 204 C512 202.5 498 202.5 491 204 Z" fill="#806a5e" opacity="0.3" filter="url(#b1)"/>
<!-- smile creases -->
<path d="M484 196 C480.5 202 482 209 487.5 214" stroke="#6e4436" stroke-width="1.6" fill="none" opacity="0.35" filter="url(#b1)"/>
<path d="M528.5 197.5 C531 203 530 208 526 212.5" stroke="#6e4436" stroke-width="1.6" fill="none" opacity="0.35" filter="url(#b1)"/>
<!-- mouth -->
<path d="M487.5 202.8 C497 204.5 515 204.5 525 202.2 C522.5 212.5 515 218.5 506 218.5 C497 218.5 490.5 212.5 487.5 202.8 Z" fill="#a46c62" filter="url(#b05)"/>
<path d="M489.8 204 C498 205.6 514 205.6 523 203.4 C520 210.8 513 214.5 506 214.5 C499 214.5 493 210.8 489.8 204 Z" fill="#f1ece2"/>
<path d="M489.8 204 C498 205.6 514 205.6 523 203.4 L522.6 204.8 C513 207 498 207 490.3 205.3 Z" fill="#8a5a52" opacity="0.4"/>
<!-- chin & jaw shadow -->
<path d="M480 224 C490 238 518 240 535 220 C532 234 518 245 504 245 C490 245 483 236 480 224 Z" fill="#4e342a" opacity="0.45" filter="url(#b2)"/>
<!-- ears -->
<path d="M460 166 C457 178 459 192 466 199 L468 180 Z" fill="#a8786a" filter="url(#b05)"/>
<path d="M544 162 C546 174 545 188 540 196 L539 175 Z" fill="#7a5444" filter="url(#b05)"/>
<!-- hair -->
<path d="M458 178 L457 150 C456.5 131 461 119 470 113 C483 106 515 105.5 532 111 C541 117 545.5 131 545 152 L544.5 172 L540.5 168 C540 156 538.5 146 534 137 C528 131 522 128 512 127 C500 126 488 127 480 130 C473 136 470 145 469 160 L466 180 Z" fill="url(#ghair)" filter="url(#hairtex)"/>
<path d="M457.5 140 C456.5 152 457.5 166 459.5 180 L464.5 180 C462.5 166 461.5 152 462.5 140 Z" fill="#a09a92" opacity="0.45" filter="url(#b1)"/>
<path d="M541.5 136 C543.5 150 544.5 160 543.5 174 L540 170 C540 160 540 148 538 138 Z" fill="#8e867e" opacity="0.45" filter="url(#b1)"/>
<path d="M474 117 C484 110 502 108 522 110 C510 116 492 118 478 125 Z" fill="#806c58" opacity="0.45" filter="url(#b1)"/>
<path d="M462 128 C466 118 476 112 488 110 C478 116 470 122 466 132 Z" fill="#a09484" opacity="0.5" filter="url(#b1)"/>
</g>
</svg>

</body></html>
